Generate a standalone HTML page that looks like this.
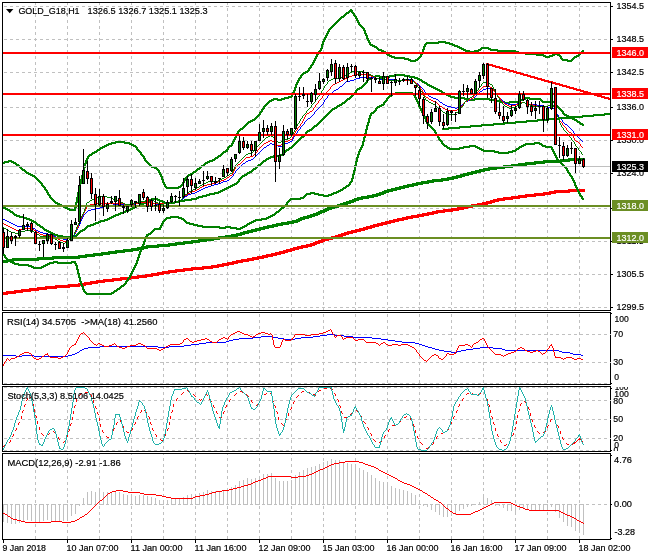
<!DOCTYPE html>
<html lang="en"><head><meta charset="utf-8"><title>GOLD_G18,H1</title>
<style>html,body{margin:0;padding:0;background:#fff;overflow:hidden}svg{display:block}text{font-family:"Liberation Sans",Arial,sans-serif}</style></head>
<body>
<svg width="650" height="560" viewBox="0 0 650 560" font-family='"Liberation Sans", Arial, sans-serif' style="display:block">
<rect width="650" height="560" fill="#fff"/>
<g shape-rendering="crispEdges">
<line x1="35.5" y1="3" x2="35.5" y2="310" stroke="#c0c0c0" stroke-width="1" stroke-dasharray="3 3" stroke-dashoffset="1"/>
<line x1="67.5" y1="3" x2="67.5" y2="310" stroke="#c0c0c0" stroke-width="1" stroke-dasharray="3 3" stroke-dashoffset="1"/>
<line x1="99.5" y1="3" x2="99.5" y2="310" stroke="#c0c0c0" stroke-width="1" stroke-dasharray="3 3" stroke-dashoffset="1"/>
<line x1="131.5" y1="3" x2="131.5" y2="310" stroke="#c0c0c0" stroke-width="1" stroke-dasharray="3 3" stroke-dashoffset="1"/>
<line x1="163.5" y1="3" x2="163.5" y2="310" stroke="#c0c0c0" stroke-width="1" stroke-dasharray="3 3" stroke-dashoffset="1"/>
<line x1="195.5" y1="3" x2="195.5" y2="310" stroke="#c0c0c0" stroke-width="1" stroke-dasharray="3 3" stroke-dashoffset="1"/>
<line x1="227.5" y1="3" x2="227.5" y2="310" stroke="#c0c0c0" stroke-width="1" stroke-dasharray="3 3" stroke-dashoffset="1"/>
<line x1="259.5" y1="3" x2="259.5" y2="310" stroke="#c0c0c0" stroke-width="1" stroke-dasharray="3 3" stroke-dashoffset="1"/>
<line x1="291.5" y1="3" x2="291.5" y2="310" stroke="#c0c0c0" stroke-width="1" stroke-dasharray="3 3" stroke-dashoffset="1"/>
<line x1="323.5" y1="3" x2="323.5" y2="310" stroke="#c0c0c0" stroke-width="1" stroke-dasharray="3 3" stroke-dashoffset="1"/>
<line x1="355.5" y1="3" x2="355.5" y2="310" stroke="#c0c0c0" stroke-width="1" stroke-dasharray="3 3" stroke-dashoffset="1"/>
<line x1="387.5" y1="3" x2="387.5" y2="310" stroke="#c0c0c0" stroke-width="1" stroke-dasharray="3 3" stroke-dashoffset="1"/>
<line x1="419.5" y1="3" x2="419.5" y2="310" stroke="#c0c0c0" stroke-width="1" stroke-dasharray="3 3" stroke-dashoffset="1"/>
<line x1="451.5" y1="3" x2="451.5" y2="310" stroke="#c0c0c0" stroke-width="1" stroke-dasharray="3 3" stroke-dashoffset="1"/>
<line x1="483.5" y1="3" x2="483.5" y2="310" stroke="#c0c0c0" stroke-width="1" stroke-dasharray="3 3" stroke-dashoffset="1"/>
<line x1="515.5" y1="3" x2="515.5" y2="310" stroke="#c0c0c0" stroke-width="1" stroke-dasharray="3 3" stroke-dashoffset="1"/>
<line x1="547.5" y1="3" x2="547.5" y2="310" stroke="#c0c0c0" stroke-width="1" stroke-dasharray="3 3" stroke-dashoffset="1"/>
<line x1="579.5" y1="3" x2="579.5" y2="310" stroke="#c0c0c0" stroke-width="1" stroke-dasharray="3 3" stroke-dashoffset="1"/>
<line x1="35.5" y1="313" x2="35.5" y2="384" stroke="#c0c0c0" stroke-width="1" stroke-dasharray="3 3" stroke-dashoffset="5"/>
<line x1="67.5" y1="313" x2="67.5" y2="384" stroke="#c0c0c0" stroke-width="1" stroke-dasharray="3 3" stroke-dashoffset="5"/>
<line x1="99.5" y1="313" x2="99.5" y2="384" stroke="#c0c0c0" stroke-width="1" stroke-dasharray="3 3" stroke-dashoffset="5"/>
<line x1="131.5" y1="313" x2="131.5" y2="384" stroke="#c0c0c0" stroke-width="1" stroke-dasharray="3 3" stroke-dashoffset="5"/>
<line x1="163.5" y1="313" x2="163.5" y2="384" stroke="#c0c0c0" stroke-width="1" stroke-dasharray="3 3" stroke-dashoffset="5"/>
<line x1="195.5" y1="313" x2="195.5" y2="384" stroke="#c0c0c0" stroke-width="1" stroke-dasharray="3 3" stroke-dashoffset="5"/>
<line x1="227.5" y1="313" x2="227.5" y2="384" stroke="#c0c0c0" stroke-width="1" stroke-dasharray="3 3" stroke-dashoffset="5"/>
<line x1="259.5" y1="313" x2="259.5" y2="384" stroke="#c0c0c0" stroke-width="1" stroke-dasharray="3 3" stroke-dashoffset="5"/>
<line x1="291.5" y1="313" x2="291.5" y2="384" stroke="#c0c0c0" stroke-width="1" stroke-dasharray="3 3" stroke-dashoffset="5"/>
<line x1="323.5" y1="313" x2="323.5" y2="384" stroke="#c0c0c0" stroke-width="1" stroke-dasharray="3 3" stroke-dashoffset="5"/>
<line x1="355.5" y1="313" x2="355.5" y2="384" stroke="#c0c0c0" stroke-width="1" stroke-dasharray="3 3" stroke-dashoffset="5"/>
<line x1="387.5" y1="313" x2="387.5" y2="384" stroke="#c0c0c0" stroke-width="1" stroke-dasharray="3 3" stroke-dashoffset="5"/>
<line x1="419.5" y1="313" x2="419.5" y2="384" stroke="#c0c0c0" stroke-width="1" stroke-dasharray="3 3" stroke-dashoffset="5"/>
<line x1="451.5" y1="313" x2="451.5" y2="384" stroke="#c0c0c0" stroke-width="1" stroke-dasharray="3 3" stroke-dashoffset="5"/>
<line x1="483.5" y1="313" x2="483.5" y2="384" stroke="#c0c0c0" stroke-width="1" stroke-dasharray="3 3" stroke-dashoffset="5"/>
<line x1="515.5" y1="313" x2="515.5" y2="384" stroke="#c0c0c0" stroke-width="1" stroke-dasharray="3 3" stroke-dashoffset="5"/>
<line x1="547.5" y1="313" x2="547.5" y2="384" stroke="#c0c0c0" stroke-width="1" stroke-dasharray="3 3" stroke-dashoffset="5"/>
<line x1="579.5" y1="313" x2="579.5" y2="384" stroke="#c0c0c0" stroke-width="1" stroke-dasharray="3 3" stroke-dashoffset="5"/>
<line x1="35.5" y1="387" x2="35.5" y2="451" stroke="#c0c0c0" stroke-width="1" stroke-dasharray="3 3" stroke-dashoffset="1"/>
<line x1="67.5" y1="387" x2="67.5" y2="451" stroke="#c0c0c0" stroke-width="1" stroke-dasharray="3 3" stroke-dashoffset="1"/>
<line x1="99.5" y1="387" x2="99.5" y2="451" stroke="#c0c0c0" stroke-width="1" stroke-dasharray="3 3" stroke-dashoffset="1"/>
<line x1="131.5" y1="387" x2="131.5" y2="451" stroke="#c0c0c0" stroke-width="1" stroke-dasharray="3 3" stroke-dashoffset="1"/>
<line x1="163.5" y1="387" x2="163.5" y2="451" stroke="#c0c0c0" stroke-width="1" stroke-dasharray="3 3" stroke-dashoffset="1"/>
<line x1="195.5" y1="387" x2="195.5" y2="451" stroke="#c0c0c0" stroke-width="1" stroke-dasharray="3 3" stroke-dashoffset="1"/>
<line x1="227.5" y1="387" x2="227.5" y2="451" stroke="#c0c0c0" stroke-width="1" stroke-dasharray="3 3" stroke-dashoffset="1"/>
<line x1="259.5" y1="387" x2="259.5" y2="451" stroke="#c0c0c0" stroke-width="1" stroke-dasharray="3 3" stroke-dashoffset="1"/>
<line x1="291.5" y1="387" x2="291.5" y2="451" stroke="#c0c0c0" stroke-width="1" stroke-dasharray="3 3" stroke-dashoffset="1"/>
<line x1="323.5" y1="387" x2="323.5" y2="451" stroke="#c0c0c0" stroke-width="1" stroke-dasharray="3 3" stroke-dashoffset="1"/>
<line x1="355.5" y1="387" x2="355.5" y2="451" stroke="#c0c0c0" stroke-width="1" stroke-dasharray="3 3" stroke-dashoffset="1"/>
<line x1="387.5" y1="387" x2="387.5" y2="451" stroke="#c0c0c0" stroke-width="1" stroke-dasharray="3 3" stroke-dashoffset="1"/>
<line x1="419.5" y1="387" x2="419.5" y2="451" stroke="#c0c0c0" stroke-width="1" stroke-dasharray="3 3" stroke-dashoffset="1"/>
<line x1="451.5" y1="387" x2="451.5" y2="451" stroke="#c0c0c0" stroke-width="1" stroke-dasharray="3 3" stroke-dashoffset="1"/>
<line x1="483.5" y1="387" x2="483.5" y2="451" stroke="#c0c0c0" stroke-width="1" stroke-dasharray="3 3" stroke-dashoffset="1"/>
<line x1="515.5" y1="387" x2="515.5" y2="451" stroke="#c0c0c0" stroke-width="1" stroke-dasharray="3 3" stroke-dashoffset="1"/>
<line x1="547.5" y1="387" x2="547.5" y2="451" stroke="#c0c0c0" stroke-width="1" stroke-dasharray="3 3" stroke-dashoffset="1"/>
<line x1="579.5" y1="387" x2="579.5" y2="451" stroke="#c0c0c0" stroke-width="1" stroke-dasharray="3 3" stroke-dashoffset="1"/>
<line x1="35.5" y1="454" x2="35.5" y2="539" stroke="#c0c0c0" stroke-width="1" stroke-dasharray="3 3" stroke-dashoffset="2"/>
<line x1="67.5" y1="454" x2="67.5" y2="539" stroke="#c0c0c0" stroke-width="1" stroke-dasharray="3 3" stroke-dashoffset="2"/>
<line x1="99.5" y1="454" x2="99.5" y2="539" stroke="#c0c0c0" stroke-width="1" stroke-dasharray="3 3" stroke-dashoffset="2"/>
<line x1="131.5" y1="454" x2="131.5" y2="539" stroke="#c0c0c0" stroke-width="1" stroke-dasharray="3 3" stroke-dashoffset="2"/>
<line x1="163.5" y1="454" x2="163.5" y2="539" stroke="#c0c0c0" stroke-width="1" stroke-dasharray="3 3" stroke-dashoffset="2"/>
<line x1="195.5" y1="454" x2="195.5" y2="539" stroke="#c0c0c0" stroke-width="1" stroke-dasharray="3 3" stroke-dashoffset="2"/>
<line x1="227.5" y1="454" x2="227.5" y2="539" stroke="#c0c0c0" stroke-width="1" stroke-dasharray="3 3" stroke-dashoffset="2"/>
<line x1="259.5" y1="454" x2="259.5" y2="539" stroke="#c0c0c0" stroke-width="1" stroke-dasharray="3 3" stroke-dashoffset="2"/>
<line x1="291.5" y1="454" x2="291.5" y2="539" stroke="#c0c0c0" stroke-width="1" stroke-dasharray="3 3" stroke-dashoffset="2"/>
<line x1="323.5" y1="454" x2="323.5" y2="539" stroke="#c0c0c0" stroke-width="1" stroke-dasharray="3 3" stroke-dashoffset="2"/>
<line x1="355.5" y1="454" x2="355.5" y2="539" stroke="#c0c0c0" stroke-width="1" stroke-dasharray="3 3" stroke-dashoffset="2"/>
<line x1="387.5" y1="454" x2="387.5" y2="539" stroke="#c0c0c0" stroke-width="1" stroke-dasharray="3 3" stroke-dashoffset="2"/>
<line x1="419.5" y1="454" x2="419.5" y2="539" stroke="#c0c0c0" stroke-width="1" stroke-dasharray="3 3" stroke-dashoffset="2"/>
<line x1="451.5" y1="454" x2="451.5" y2="539" stroke="#c0c0c0" stroke-width="1" stroke-dasharray="3 3" stroke-dashoffset="2"/>
<line x1="483.5" y1="454" x2="483.5" y2="539" stroke="#c0c0c0" stroke-width="1" stroke-dasharray="3 3" stroke-dashoffset="2"/>
<line x1="515.5" y1="454" x2="515.5" y2="539" stroke="#c0c0c0" stroke-width="1" stroke-dasharray="3 3" stroke-dashoffset="2"/>
<line x1="547.5" y1="454" x2="547.5" y2="539" stroke="#c0c0c0" stroke-width="1" stroke-dasharray="3 3" stroke-dashoffset="2"/>
<line x1="579.5" y1="454" x2="579.5" y2="539" stroke="#c0c0c0" stroke-width="1" stroke-dasharray="3 3" stroke-dashoffset="2"/>
<line x1="4" y1="6.5" x2="610" y2="6.5" stroke="#c0c0c0" stroke-width="1" stroke-dasharray="3 3" stroke-dashoffset="0"/>
<line x1="4" y1="39.5" x2="610" y2="39.5" stroke="#c0c0c0" stroke-width="1" stroke-dasharray="3 3" stroke-dashoffset="0"/>
<line x1="4" y1="72.5" x2="610" y2="72.5" stroke="#c0c0c0" stroke-width="1" stroke-dasharray="3 3" stroke-dashoffset="0"/>
<line x1="4" y1="107.5" x2="610" y2="107.5" stroke="#c0c0c0" stroke-width="1" stroke-dasharray="3 3" stroke-dashoffset="0"/>
<line x1="4" y1="140.5" x2="610" y2="140.5" stroke="#c0c0c0" stroke-width="1" stroke-dasharray="3 3" stroke-dashoffset="0"/>
<line x1="4" y1="173.5" x2="610" y2="173.5" stroke="#c0c0c0" stroke-width="1" stroke-dasharray="3 3" stroke-dashoffset="0"/>
<line x1="4" y1="208.5" x2="610" y2="208.5" stroke="#c0c0c0" stroke-width="1" stroke-dasharray="3 3" stroke-dashoffset="0"/>
<line x1="4" y1="241.5" x2="610" y2="241.5" stroke="#c0c0c0" stroke-width="1" stroke-dasharray="3 3" stroke-dashoffset="0"/>
<line x1="4" y1="274.5" x2="610" y2="274.5" stroke="#c0c0c0" stroke-width="1" stroke-dasharray="3 3" stroke-dashoffset="0"/>
<line x1="4" y1="307.5" x2="610" y2="307.5" stroke="#c0c0c0" stroke-width="1" stroke-dasharray="3 3" stroke-dashoffset="0"/>
<line x1="4" y1="334.5" x2="610" y2="334.5" stroke="#c0c0c0" stroke-width="1" stroke-dasharray="3 3" stroke-dashoffset="0"/>
<line x1="4" y1="362.5" x2="610" y2="362.5" stroke="#c0c0c0" stroke-width="1" stroke-dasharray="3 3" stroke-dashoffset="0"/>
<line x1="4" y1="383.5" x2="610" y2="383.5" stroke="#c0c0c0" stroke-width="1" stroke-dasharray="3 3" stroke-dashoffset="0"/>
<line x1="4" y1="387.5" x2="610" y2="387.5" stroke="#c0c0c0" stroke-width="1" stroke-dasharray="3 3" stroke-dashoffset="0"/>
<line x1="4" y1="400.5" x2="610" y2="400.5" stroke="#c0c0c0" stroke-width="1" stroke-dasharray="3 3" stroke-dashoffset="0"/>
<line x1="4" y1="419.5" x2="610" y2="419.5" stroke="#c0c0c0" stroke-width="1" stroke-dasharray="3 3" stroke-dashoffset="0"/>
<line x1="4" y1="438.5" x2="610" y2="438.5" stroke="#c0c0c0" stroke-width="1" stroke-dasharray="3 3" stroke-dashoffset="0"/>
<line x1="4" y1="450.5" x2="610" y2="450.5" stroke="#c0c0c0" stroke-width="1" stroke-dasharray="3 3" stroke-dashoffset="0"/>
<line x1="4" y1="504.5" x2="610" y2="504.5" stroke="#c0c0c0" stroke-width="1" stroke-dasharray="3 3" stroke-dashoffset="0"/>
</g>
<clipPath id="cm"><rect x="3" y="3" width="607" height="307"/></clipPath>
<g clip-path="url(#cm)">
<g shape-rendering="crispEdges">
<path d="M568 189h17v1h-17zM554 190h31v1h-31zM549 191h36v1h-36zM543 192h27v1h-27zM534 193h22v1h-22zM525 194h26v1h-26zM518 195h27v1h-27zM511 196h25v1h-25zM503 197h24v1h-24zM497 198h23v1h-23zM493 199h20v1h-20zM490 200h15v1h-15zM486 201h13v1h-13zM482 202h13v1h-13zM477 203h15v1h-15zM471 204h17v1h-17zM466 205h18v1h-18zM462 206h17v1h-17zM457 207h16v1h-16zM451 208h17v1h-17zM443 209h21v1h-21zM436 210h23v1h-23zM432 211h21v1h-21zM427 212h18v1h-18zM422 213h16v1h-16zM417 214h17v1h-17zM411 215h18v1h-18zM406 216h18v1h-18zM402 217h17v1h-17zM397 218h16v1h-16zM393 219h15v1h-15zM389 220h15v1h-15zM385 221h14v1h-14zM381 222h14v1h-14zM377 223h14v1h-14zM373 224h14v1h-14zM370 225h13v1h-13zM366 226h13v1h-13zM363 227h12v1h-12zM359 228h13v1h-13zM355 229h13v1h-13zM351 230h14v1h-14zM347 231h14v1h-14zM344 232h13v1h-13zM341 233h12v1h-12zM338 234h11v1h-11zM335 235h11v1h-11zM331 236h12v1h-12zM327 237h13v1h-13zM323 238h14v1h-14zM321 239h12v1h-12zM318 240h11v1h-11zM315 241h10v1h-10zM313 242h10v1h-10zM310 243h10v1h-10zM306 244h11v1h-11zM301 245h14v1h-14zM297 246h15v1h-15zM293 247h15v1h-15zM290 248h13v1h-13zM286 249h13v1h-13zM283 250h12v1h-12zM279 251h13v1h-13zM275 252h13v1h-13zM271 253h14v1h-14zM266 254h15v1h-15zM262 255h15v1h-15zM257 256h16v1h-16zM252 257h16v1h-16zM247 258h17v1h-17zM241 259h18v1h-18zM236 260h18v1h-18zM232 261h17v1h-17zM227 262h16v1h-16zM222 263h16v1h-16zM217 264h17v1h-17zM211 265h18v1h-18zM202 266h22v1h-22zM191 267h28v1h-28zM183 268h30v1h-30zM175 269h29v1h-29zM168 270h25v1h-25zM162 271h23v1h-23zM157 272h20v1h-20zM151 273h19v1h-19zM145 274h19v1h-19zM137 275h22v1h-22zM129 276h24v1h-24zM120 277h27v1h-27zM112 278h27v1h-27zM103 279h28v1h-28zM96 280h26v1h-26zM90 281h24v1h-24zM84 282h21v1h-21zM78 283h20v1h-20zM68 284h24v1h-24zM55 285h31v1h-31zM45 286h35v1h-35zM37 287h33v1h-33zM29 288h28v1h-28zM21 289h26v1h-26zM14 290h25v1h-25zM6 291h25v1h-25zM3 292h20v1h-20zM3 293h13v1h-13zM3 294h5v1h-5z" fill="#ff0000"/>
<path d="M568 158h17v1h-17zM560 159h25v1h-25zM543 160h42v1h-42zM534 161h36v1h-36zM525 162h37v1h-37zM518 163h27v1h-27zM511 164h25v1h-25zM503 165h24v1h-24zM495 166h25v1h-25zM488 167h25v1h-25zM483 168h22v1h-22zM479 169h18v1h-18zM475 170h15v1h-15zM471 171h14v1h-14zM467 172h14v1h-14zM463 173h14v1h-14zM460 174h13v1h-13zM456 175h13v1h-13zM452 176h13v1h-13zM447 177h15v1h-15zM441 178h17v1h-17zM432 179h22v1h-22zM427 180h22v1h-22zM421 181h22v1h-22zM416 182h18v1h-18zM412 183h17v1h-17zM407 184h16v1h-16zM403 185h15v1h-15zM399 186h15v1h-15zM395 187h14v1h-14zM391 188h14v1h-14zM387 189h14v1h-14zM384 190h13v1h-13zM382 191h11v1h-11zM379 192h10v1h-10zM376 193h10v1h-10zM372 194h12v1h-12zM367 195h14v1h-14zM361 196h17v1h-17zM357 197h17v1h-17zM354 198h15v1h-15zM352 199h11v1h-11zM349 200h10v1h-10zM346 201h10v1h-10zM343 202h11v1h-11zM340 203h11v1h-11zM337 204h11v1h-11zM333 205h12v1h-12zM330 206h12v1h-12zM327 207h12v1h-12zM325 208h10v1h-10zM323 209h9v1h-9zM320 210h9v1h-9zM318 211h9v1h-9zM316 212h9v1h-9zM313 213h9v1h-9zM310 214h10v1h-10zM307 215h11v1h-11zM303 216h12v1h-12zM300 217h12v1h-12zM298 218h11v1h-11zM296 219h9v1h-9zM292 220h10v1h-10zM287 221h13v1h-13zM281 222h17v1h-17zM276 223h18v1h-18zM272 224h17v1h-17zM267 225h16v1h-16zM263 226h15v1h-15zM259 227h15v1h-15zM255 228h14v1h-14zM251 229h14v1h-14zM247 230h14v1h-14zM243 231h14v1h-14zM240 232h13v1h-13zM236 233h13v1h-13zM231 234h14v1h-14zM225 235h17v1h-17zM218 236h20v1h-20zM212 237h21v1h-21zM205 238h22v1h-22zM198 239h22v1h-22zM191 240h23v1h-23zM183 241h24v1h-24zM175 242h25v1h-25zM168 243h25v1h-25zM157 244h28v1h-28zM146 245h31v1h-31zM142 246h28v1h-28zM137 247h22v1h-22zM131 248h17v1h-17zM123 249h21v1h-21zM115 250h24v1h-24zM108 251h25v1h-25zM101 252h24v1h-24zM93 253h24v1h-24zM85 254h25v1h-25zM78 255h25v1h-25zM52 256h43v1h-43zM37 257h50v1h-50zM12 258h68v1h-68zM6 259h48v1h-48zM3 260h36v1h-36zM3 261h11v1h-11zM3 262h5v1h-5z" fill="#008000"/>
<path d="M350 9h2v1h-2zM349 10h4v1h-4zM348 11h5v1h-5zM346 12h4v1h-4zM351 12h3v1h-3zM345 13h4v1h-4zM352 13h3v1h-3zM344 14h3v1h-3zM353 14h2v1h-2zM343 15h3v1h-3zM353 15h3v1h-3zM341 16h4v1h-4zM354 16h3v1h-3zM340 17h4v1h-4zM355 17h2v1h-2zM339 18h3v1h-3zM355 18h3v1h-3zM338 19h3v1h-3zM356 19h2v1h-2zM337 20h3v1h-3zM356 20h3v1h-3zM336 21h3v1h-3zM357 21h2v1h-2zM335 22h3v1h-3zM357 22h3v1h-3zM334 23h3v1h-3zM358 23h2v1h-2zM333 24h3v1h-3zM358 24h3v1h-3zM332 25h3v1h-3zM359 25h3v1h-3zM331 26h3v1h-3zM360 26h3v1h-3zM330 27h3v1h-3zM361 27h3v1h-3zM329 28h3v1h-3zM362 28h3v1h-3zM328 29h3v1h-3zM363 29h2v1h-2zM328 30h2v1h-2zM363 30h3v1h-3zM327 31h3v1h-3zM364 31h2v2h-2zM327 32h2v1h-2zM326 33h3v1h-3zM364 33h3v1h-3zM326 34h2v1h-2zM365 34h2v1h-2zM325 35h3v1h-3zM365 35h3v1h-3zM325 36h2v1h-2zM366 36h2v2h-2zM324 37h3v1h-3zM324 38h2v1h-2zM366 38h3v1h-3zM323 39h3v1h-3zM367 39h2v1h-2zM323 40h2v1h-2zM367 40h3v1h-3zM322 41h3v1h-3zM368 41h2v1h-2zM438 41h8v1h-8zM322 42h2v2h-2zM368 42h3v1h-3zM426 42h24v1h-24zM369 43h2v1h-2zM425 43h14v1h-14zM445 43h8v1h-8zM321 44h3v1h-3zM369 44h4v1h-4zM424 44h3v1h-3zM449 44h6v1h-6zM321 45h2v3h-2zM370 45h5v1h-5zM424 45h2v1h-2zM452 45h6v1h-6zM372 46h5v1h-5zM423 46h3v1h-3zM454 46h6v1h-6zM374 47h4v1h-4zM423 47h2v2h-2zM457 47h5v1h-5zM481 47h8v1h-8zM320 48h3v1h-3zM376 48h3v1h-3zM459 48h5v1h-5zM480 48h11v1h-11zM320 49h2v1h-2zM377 49h5v1h-5zM422 49h3v1h-3zM461 49h5v1h-5zM478 49h4v1h-4zM488 49h10v1h-10zM319 50h3v1h-3zM378 50h6v1h-6zM422 50h2v2h-2zM463 50h7v1h-7zM474 50h7v1h-7zM490 50h26v1h-26zM582 50h2v1h-2zM318 51h3v1h-3zM381 51h5v1h-5zM465 51h14v1h-14zM497 51h22v1h-22zM581 51h3v1h-3zM317 52h3v1h-3zM383 52h4v1h-4zM421 52h3v1h-3zM469 52h6v1h-6zM515 52h11v1h-11zM580 52h3v1h-3zM317 53h2v1h-2zM385 53h3v1h-3zM421 53h2v1h-2zM518 53h19v1h-19zM554 53h4v1h-4zM579 53h3v1h-3zM316 54h3v1h-3zM386 54h4v1h-4zM420 54h3v1h-3zM525 54h19v1h-19zM552 54h8v1h-8zM578 54h3v1h-3zM316 55h2v1h-2zM387 55h5v1h-5zM420 55h2v1h-2zM536 55h10v1h-10zM549 55h6v1h-6zM557 55h4v1h-4zM576 55h4v1h-4zM315 56h3v1h-3zM389 56h6v1h-6zM419 56h3v1h-3zM543 56h10v1h-10zM559 56h3v1h-3zM574 56h5v1h-5zM315 57h2v1h-2zM391 57h14v1h-14zM418 57h3v1h-3zM545 57h5v1h-5zM560 57h2v1h-2zM573 57h4v1h-4zM314 58h3v1h-3zM394 58h15v1h-15zM417 58h3v1h-3zM560 58h3v1h-3zM572 58h3v1h-3zM314 59h2v1h-2zM404 59h7v1h-7zM415 59h4v1h-4zM561 59h7v1h-7zM571 59h3v1h-3zM313 60h3v1h-3zM408 60h10v1h-10zM562 60h11v1h-11zM313 61h2v1h-2zM410 61h6v1h-6zM567 61h5v1h-5zM312 62h3v1h-3zM312 63h2v1h-2zM311 64h3v1h-3zM310 65h3v1h-3zM310 66h2v1h-2zM309 67h3v1h-3zM308 68h3v1h-3zM308 69h2v1h-2zM307 70h3v1h-3zM305 71h4v1h-4zM303 72h5v1h-5zM302 73h4v1h-4zM301 74h3v1h-3zM300 75h3v1h-3zM300 76h2v1h-2zM299 77h3v1h-3zM298 78h3v1h-3zM298 79h2v1h-2zM297 80h3v1h-3zM297 81h2v1h-2zM296 82h3v1h-3zM296 83h2v1h-2zM295 84h3v1h-3zM295 85h2v2h-2zM294 87h3v1h-3zM294 88h2v2h-2zM293 90h3v1h-3zM293 91h2v1h-2zM292 92h3v1h-3zM292 93h2v1h-2zM291 94h3v1h-3zM291 95h2v1h-2zM288 96h5v1h-5zM284 97h8v1h-8zM273 98h5v1h-5zM281 98h8v1h-8zM271 99h14v1h-14zM269 100h5v1h-5zM277 100h5v1h-5zM268 101h4v1h-4zM267 102h3v1h-3zM266 103h3v1h-3zM265 104h3v1h-3zM264 105h3v1h-3zM263 106h3v1h-3zM263 107h2v1h-2zM262 108h3v1h-3zM261 109h3v1h-3zM261 110h2v1h-2zM260 111h3v1h-3zM259 112h3v1h-3zM259 113h2v1h-2zM258 114h3v1h-3zM257 115h3v1h-3zM256 116h3v1h-3zM255 117h3v1h-3zM254 118h3v1h-3zM252 119h4v1h-4zM250 120h5v1h-5zM248 121h5v1h-5zM247 122h4v1h-4zM246 123h3v1h-3zM245 124h3v1h-3zM244 125h3v1h-3zM243 126h3v1h-3zM242 127h3v1h-3zM240 128h4v1h-4zM239 129h4v1h-4zM238 130h3v1h-3zM237 131h3v1h-3zM237 132h2v1h-2zM236 133h3v1h-3zM236 134h2v1h-2zM235 135h3v1h-3zM235 136h2v1h-2zM234 137h3v1h-3zM234 138h2v1h-2zM233 139h3v1h-3zM233 140h2v1h-2zM115 141h10v1h-10zM232 141h3v1h-3zM111 142h19v1h-19zM232 142h2v1h-2zM108 143h8v1h-8zM124 143h8v1h-8zM231 143h3v1h-3zM106 144h6v1h-6zM129 144h5v1h-5zM231 144h2v1h-2zM104 145h5v1h-5zM131 145h5v1h-5zM229 145h4v1h-4zM102 146h5v1h-5zM133 146h4v1h-4zM228 146h4v1h-4zM100 147h5v1h-5zM135 147h3v1h-3zM227 147h3v1h-3zM99 148h4v1h-4zM136 148h2v1h-2zM227 148h2v1h-2zM97 149h4v1h-4zM136 149h3v1h-3zM226 149h3v1h-3zM96 150h4v1h-4zM137 150h3v1h-3zM225 150h3v1h-3zM94 151h4v1h-4zM138 151h3v1h-3zM223 151h5v1h-5zM92 152h5v1h-5zM139 152h3v1h-3zM222 152h4v1h-4zM91 153h4v1h-4zM140 153h2v1h-2zM221 153h3v1h-3zM89 154h4v1h-4zM140 154h3v1h-3zM220 154h3v1h-3zM88 155h4v1h-4zM141 155h3v1h-3zM218 155h4v1h-4zM87 156h3v1h-3zM142 156h3v1h-3zM217 156h4v1h-4zM87 157h2v1h-2zM143 157h2v1h-2zM215 157h4v1h-4zM86 158h3v1h-3zM143 158h3v1h-3zM214 158h4v1h-4zM86 159h2v1h-2zM144 159h2v1h-2zM212 159h4v1h-4zM8 160h4v1h-4zM85 160h3v1h-3zM144 160h3v1h-3zM209 160h6v1h-6zM4 161h10v1h-10zM85 161h2v2h-2zM145 161h3v1h-3zM207 161h6v1h-6zM3 162h6v1h-6zM11 162h5v1h-5zM146 162h3v1h-3zM205 162h5v1h-5zM3 163h2v1h-2zM13 163h4v1h-4zM84 163h3v1h-3zM147 163h3v1h-3zM204 163h4v1h-4zM15 164h4v1h-4zM84 164h2v3h-2zM148 164h3v1h-3zM203 164h3v1h-3zM16 165h4v1h-4zM149 165h3v1h-3zM201 165h4v1h-4zM18 166h3v1h-3zM150 166h5v1h-5zM200 166h4v1h-4zM19 167h3v1h-3zM83 167h3v1h-3zM151 167h6v1h-6zM199 167h3v1h-3zM20 168h3v1h-3zM83 168h2v3h-2zM154 168h4v1h-4zM197 168h4v1h-4zM21 169h4v1h-4zM156 169h3v1h-3zM196 169h4v1h-4zM22 170h4v1h-4zM157 170h3v1h-3zM195 170h3v1h-3zM24 171h3v1h-3zM82 171h3v1h-3zM158 171h2v1h-2zM193 171h4v1h-4zM25 172h4v1h-4zM82 172h2v3h-2zM158 172h3v1h-3zM192 172h4v1h-4zM26 173h5v1h-5zM159 173h2v1h-2zM190 173h4v1h-4zM28 174h5v1h-5zM159 174h3v1h-3zM188 174h5v1h-5zM30 175h5v1h-5zM81 175h3v1h-3zM160 175h2v1h-2zM187 175h4v1h-4zM32 176h4v1h-4zM81 176h2v3h-2zM160 176h3v1h-3zM186 176h3v1h-3zM34 177h3v1h-3zM161 177h2v2h-2zM185 177h3v1h-3zM35 178h3v1h-3zM184 178h3v1h-3zM36 179h3v1h-3zM80 179h3v1h-3zM161 179h3v1h-3zM184 179h2v1h-2zM37 180h3v1h-3zM80 180h2v3h-2zM162 180h2v2h-2zM183 180h3v1h-3zM38 181h3v1h-3zM183 181h2v1h-2zM39 182h3v1h-3zM162 182h3v1h-3zM182 182h3v1h-3zM40 183h3v1h-3zM79 183h3v1h-3zM163 183h2v1h-2zM182 183h2v1h-2zM41 184h2v1h-2zM79 184h2v3h-2zM163 184h3v1h-3zM181 184h3v1h-3zM41 185h3v1h-3zM164 185h2v1h-2zM180 185h3v1h-3zM42 186h3v1h-3zM164 186h3v1h-3zM178 186h4v1h-4zM43 187h3v1h-3zM78 187h3v1h-3zM165 187h16v1h-16zM44 188h2v1h-2zM78 188h2v4h-2zM166 188h13v1h-13zM44 189h3v1h-3zM45 190h3v1h-3zM46 191h2v1h-2zM46 192h3v1h-3zM77 192h3v1h-3zM47 193h2v1h-2zM77 193h2v4h-2zM47 194h3v1h-3zM48 195h3v1h-3zM49 196h2v1h-2zM49 197h3v1h-3zM76 197h3v1h-3zM50 198h3v1h-3zM76 198h2v4h-2zM51 199h3v1h-3zM52 200h3v1h-3zM53 201h3v1h-3zM54 202h4v1h-4zM75 202h3v1h-3zM55 203h5v1h-5zM75 203h2v4h-2zM57 204h5v1h-5zM59 205h5v1h-5zM61 206h5v1h-5zM63 207h5v1h-5zM74 207h3v1h-3zM65 208h5v1h-5zM74 208h2v1h-2zM67 209h9v1h-9zM69 210h7v1h-7z" fill="#008000"/>
<path d="M395 92h18v1h-18zM392 93h22v1h-22zM391 94h5v1h-5zM412 94h3v1h-3zM389 95h4v1h-4zM413 95h3v1h-3zM388 96h4v1h-4zM414 96h2v1h-2zM387 97h3v1h-3zM414 97h3v1h-3zM386 98h3v1h-3zM415 98h2v1h-2zM386 99h2v1h-2zM415 99h3v1h-3zM385 100h3v1h-3zM416 100h2v1h-2zM384 101h3v1h-3zM416 101h3v1h-3zM383 102h3v1h-3zM417 102h2v1h-2zM383 103h2v1h-2zM417 103h3v1h-3zM381 104h4v1h-4zM418 104h2v2h-2zM379 105h5v1h-5zM377 106h5v1h-5zM418 106h3v1h-3zM376 107h4v1h-4zM419 107h2v1h-2zM375 108h3v1h-3zM419 108h3v1h-3zM375 109h2v1h-2zM420 109h2v1h-2zM374 110h3v1h-3zM420 110h3v1h-3zM373 111h3v1h-3zM421 111h2v1h-2zM371 112h4v1h-4zM421 112h3v1h-3zM370 113h4v1h-4zM422 113h2v1h-2zM370 114h2v1h-2zM422 114h3v1h-3zM369 115h3v1h-3zM423 115h2v1h-2zM369 116h2v2h-2zM423 116h3v1h-3zM424 117h2v1h-2zM368 118h3v1h-3zM424 118h3v1h-3zM368 119h2v3h-2zM425 119h2v2h-2zM425 121h3v1h-3zM367 122h3v1h-3zM426 122h2v1h-2zM367 123h2v2h-2zM426 123h3v1h-3zM427 124h3v1h-3zM366 125h3v1h-3zM428 125h3v1h-3zM366 126h2v3h-2zM429 126h3v1h-3zM430 127h3v1h-3zM431 128h3v1h-3zM365 129h3v1h-3zM432 129h3v1h-3zM365 130h2v3h-2zM433 130h3v1h-3zM434 131h2v1h-2zM434 132h3v1h-3zM364 133h3v1h-3zM435 133h2v1h-2zM364 134h2v3h-2zM435 134h3v1h-3zM436 135h3v1h-3zM437 136h2v1h-2zM363 137h3v1h-3zM437 137h3v1h-3zM363 138h2v3h-2zM438 138h2v1h-2zM438 139h3v1h-3zM439 140h3v1h-3zM362 141h3v1h-3zM440 141h3v1h-3zM362 142h2v3h-2zM441 142h2v1h-2zM534 142h6v1h-6zM441 143h3v1h-3zM525 143h17v1h-17zM442 144h3v1h-3zM523 144h12v1h-12zM539 144h4v1h-4zM361 145h3v1h-3zM443 145h4v1h-4zM469 145h7v1h-7zM521 145h5v1h-5zM541 145h5v1h-5zM361 146h2v1h-2zM444 146h4v1h-4zM463 146h15v1h-15zM519 146h5v1h-5zM542 146h10v1h-10zM360 147h3v1h-3zM446 147h4v1h-4zM459 147h11v1h-11zM475 147h5v1h-5zM518 147h4v1h-4zM545 147h8v1h-8zM360 148h2v1h-2zM447 148h17v1h-17zM477 148h5v1h-5zM516 148h4v1h-4zM551 148h2v1h-2zM359 149h3v1h-3zM449 149h11v1h-11zM479 149h5v1h-5zM515 149h4v1h-4zM551 149h3v1h-3zM359 150h2v1h-2zM481 150h14v1h-14zM512 150h5v1h-5zM552 150h2v1h-2zM358 151h3v1h-3zM483 151h16v1h-16zM508 151h8v1h-8zM552 151h3v1h-3zM358 152h2v2h-2zM494 152h19v1h-19zM553 152h2v1h-2zM498 153h11v1h-11zM553 153h3v1h-3zM357 154h3v1h-3zM554 154h2v1h-2zM357 155h2v2h-2zM554 155h3v1h-3zM555 156h2v1h-2zM356 157h3v1h-3zM555 157h3v1h-3zM356 158h2v3h-2zM556 158h2v1h-2zM556 159h3v1h-3zM557 160h3v1h-3zM355 161h3v1h-3zM558 161h3v1h-3zM355 162h2v3h-2zM559 162h3v1h-3zM560 163h3v1h-3zM561 164h3v1h-3zM354 165h3v1h-3zM562 165h3v1h-3zM354 166h2v4h-2zM563 166h3v1h-3zM564 167h3v1h-3zM565 168h3v1h-3zM566 169h2v1h-2zM353 170h3v1h-3zM566 170h3v1h-3zM353 171h2v3h-2zM567 171h2v1h-2zM567 172h3v1h-3zM568 173h3v1h-3zM352 174h3v1h-3zM569 174h2v1h-2zM352 175h2v3h-2zM569 175h3v1h-3zM570 176h3v1h-3zM571 177h2v1h-2zM351 178h3v1h-3zM571 178h3v1h-3zM351 179h2v2h-2zM572 179h2v1h-2zM572 180h3v1h-3zM350 181h3v1h-3zM573 181h2v1h-2zM349 182h3v1h-3zM573 182h3v1h-3zM349 183h2v1h-2zM574 183h2v2h-2zM348 184h3v1h-3zM346 185h4v1h-4zM574 185h3v1h-3zM345 186h4v1h-4zM575 186h2v1h-2zM343 187h4v1h-4zM575 187h3v1h-3zM342 188h4v1h-4zM576 188h2v1h-2zM340 189h4v1h-4zM576 189h3v1h-3zM338 190h5v1h-5zM577 190h2v1h-2zM336 191h5v1h-5zM577 191h3v1h-3zM310 192h5v1h-5zM333 192h6v1h-6zM578 192h2v1h-2zM306 193h13v1h-13zM331 193h6v1h-6zM578 193h3v1h-3zM305 194h6v1h-6zM314 194h10v1h-10zM328 194h6v1h-6zM579 194h2v1h-2zM304 195h3v1h-3zM318 195h14v1h-14zM579 195h3v1h-3zM303 196h3v1h-3zM323 196h6v1h-6zM580 196h3v1h-3zM300 197h5v1h-5zM581 197h2v1h-2zM290 198h14v1h-14zM581 198h3v1h-3zM289 199h12v1h-12zM582 199h2v1h-2zM288 200h3v1h-3zM287 201h3v1h-3zM286 202h3v1h-3zM286 203h2v1h-2zM285 204h3v1h-3zM284 205h3v1h-3zM283 206h3v1h-3zM281 207h4v1h-4zM280 208h4v1h-4zM279 209h3v1h-3zM278 210h3v1h-3zM276 211h4v1h-4zM275 212h4v1h-4zM274 213h3v1h-3zM272 214h4v1h-4zM270 215h5v1h-5zM170 216h9v1h-9zM268 216h5v1h-5zM166 217h16v1h-16zM266 217h5v1h-5zM165 218h6v1h-6zM178 218h6v1h-6zM261 218h8v1h-8zM164 219h3v1h-3zM181 219h4v1h-4zM255 219h12v1h-12zM163 220h3v1h-3zM183 220h3v1h-3zM253 220h9v1h-9zM162 221h3v1h-3zM184 221h3v1h-3zM251 221h5v1h-5zM162 222h2v1h-2zM185 222h5v1h-5zM249 222h5v1h-5zM161 223h3v1h-3zM186 223h8v1h-8zM247 223h5v1h-5zM161 224h2v1h-2zM189 224h9v1h-9zM246 224h4v1h-4zM160 225h3v1h-3zM193 225h10v1h-10zM244 225h4v1h-4zM160 226h2v1h-2zM197 226h23v1h-23zM225 226h6v1h-6zM242 226h5v1h-5zM159 227h3v1h-3zM202 227h35v1h-35zM240 227h5v1h-5zM154 228h7v1h-7zM219 228h7v1h-7zM230 228h13v1h-13zM153 229h8v1h-8zM236 229h5v1h-5zM152 230h3v1h-3zM151 231h3v1h-3zM150 232h3v1h-3zM148 233h4v1h-4zM146 234h5v1h-5zM146 235h3v1h-3zM145 236h3v1h-3zM145 237h2v1h-2zM144 238h3v1h-3zM144 239h2v2h-2zM143 241h3v1h-3zM143 242h2v2h-2zM142 244h3v1h-3zM142 245h2v1h-2zM141 246h3v1h-3zM141 247h2v2h-2zM140 249h3v1h-3zM140 250h2v1h-2zM139 251h3v1h-3zM139 252h2v2h-2zM3 253h1v1h-1zM3 254h2v1h-2zM138 254h3v1h-3zM3 255h3v1h-3zM138 255h2v2h-2zM4 256h2v1h-2zM4 257h3v1h-3zM137 257h3v1h-3zM5 258h3v1h-3zM137 258h2v2h-2zM6 259h4v1h-4zM7 260h4v1h-4zM136 260h3v1h-3zM9 261h4v1h-4zM53 261h5v1h-5zM71 261h5v1h-5zM136 261h2v2h-2zM10 262h5v1h-5zM49 262h27v1h-27zM12 263h7v1h-7zM47 263h7v1h-7zM57 263h15v1h-15zM74 263h3v1h-3zM135 263h3v1h-3zM14 264h15v1h-15zM45 264h5v1h-5zM75 264h2v1h-2zM135 264h2v1h-2zM18 265h14v1h-14zM43 265h5v1h-5zM75 265h3v1h-3zM134 265h3v1h-3zM28 266h6v1h-6zM41 266h5v1h-5zM76 266h2v3h-2zM134 266h2v1h-2zM31 267h13v1h-13zM133 267h3v1h-3zM33 268h9v1h-9zM133 268h2v1h-2zM76 269h3v1h-3zM132 269h3v1h-3zM77 270h2v3h-2zM132 270h2v1h-2zM131 271h3v1h-3zM131 272h2v1h-2zM77 273h3v1h-3zM130 273h3v1h-3zM78 274h2v3h-2zM130 274h2v1h-2zM129 275h3v1h-3zM129 276h2v1h-2zM78 277h3v1h-3zM128 277h3v1h-3zM79 278h2v3h-2zM127 278h3v1h-3zM127 279h2v1h-2zM126 280h3v1h-3zM79 281h3v1h-3zM125 281h3v1h-3zM80 282h2v2h-2zM125 282h2v1h-2zM124 283h3v1h-3zM80 284h3v1h-3zM123 284h3v1h-3zM81 285h2v1h-2zM121 285h4v1h-4zM81 286h3v1h-3zM120 286h4v1h-4zM82 287h2v2h-2zM119 287h3v1h-3zM117 288h4v1h-4zM82 289h3v1h-3zM116 289h4v1h-4zM83 290h2v1h-2zM114 290h4v1h-4zM83 291h3v1h-3zM113 291h4v1h-4zM84 292h3v1h-3zM111 292h4v1h-4zM85 293h29v1h-29zM86 294h26v1h-26z" fill="#008000"/>
<path d="M394 74h11v1h-11zM375 75h5v1h-5zM389 75h21v1h-21zM372 76h23v1h-23zM404 76h11v1h-11zM370 77h6v1h-6zM379 77h11v1h-11zM409 77h9v1h-9zM368 78h5v1h-5zM414 78h6v1h-6zM367 79h4v1h-4zM417 79h5v1h-5zM366 80h3v1h-3zM419 80h4v1h-4zM366 81h2v1h-2zM421 81h4v1h-4zM365 82h3v1h-3zM422 82h5v1h-5zM364 83h3v1h-3zM424 83h4v1h-4zM363 84h3v1h-3zM426 84h4v1h-4zM362 85h3v1h-3zM427 85h5v1h-5zM361 86h3v1h-3zM429 86h5v1h-5zM359 87h4v1h-4zM431 87h5v1h-5zM357 88h5v1h-5zM433 88h5v1h-5zM356 89h4v1h-4zM435 89h5v1h-5zM355 90h3v1h-3zM437 90h5v1h-5zM355 91h2v1h-2zM439 91h4v1h-4zM354 92h3v1h-3zM441 92h4v1h-4zM353 93h3v1h-3zM442 93h5v1h-5zM352 94h3v1h-3zM444 94h5v1h-5zM351 95h3v1h-3zM446 95h5v1h-5zM350 96h3v1h-3zM448 96h7v1h-7zM349 97h3v1h-3zM450 97h15v1h-15zM525 97h5v1h-5zM347 98h4v1h-4zM454 98h16v1h-16zM474 98h16v1h-16zM523 98h18v1h-18zM346 99h4v1h-4zM464 99h31v1h-31zM520 99h6v1h-6zM529 99h13v1h-13zM345 100h3v1h-3zM469 100h6v1h-6zM489 100h11v1h-11zM518 100h6v1h-6zM540 100h3v1h-3zM344 101h3v1h-3zM494 101h11v1h-11zM509 101h12v1h-12zM541 101h14v1h-14zM342 102h4v1h-4zM499 102h20v1h-20zM542 102h14v1h-14zM341 103h4v1h-4zM504 103h6v1h-6zM554 103h3v1h-3zM339 104h4v1h-4zM555 104h2v1h-2zM337 105h5v1h-5zM555 105h3v1h-3zM336 106h4v1h-4zM556 106h3v1h-3zM334 107h4v1h-4zM557 107h3v1h-3zM332 108h5v1h-5zM558 108h3v1h-3zM331 109h4v1h-4zM559 109h3v1h-3zM330 110h3v1h-3zM560 110h3v1h-3zM329 111h3v1h-3zM561 111h3v1h-3zM328 112h3v1h-3zM562 112h2v1h-2zM327 113h3v1h-3zM562 113h3v1h-3zM326 114h3v1h-3zM563 114h4v1h-4zM325 115h3v1h-3zM564 115h5v1h-5zM324 116h3v1h-3zM566 116h5v1h-5zM323 117h3v1h-3zM568 117h5v1h-5zM322 118h3v1h-3zM570 118h5v1h-5zM321 119h3v1h-3zM572 119h5v1h-5zM320 120h3v1h-3zM574 120h4v1h-4zM319 121h3v1h-3zM576 121h4v1h-4zM318 122h3v1h-3zM577 122h4v1h-4zM317 123h3v1h-3zM579 123h4v1h-4zM316 124h3v1h-3zM580 124h4v1h-4zM314 125h4v1h-4zM582 125h2v1h-2zM313 126h4v1h-4zM312 127h3v1h-3zM311 128h3v1h-3zM309 129h4v1h-4zM307 130h5v1h-5zM306 131h4v1h-4zM305 132h3v1h-3zM305 133h2v1h-2zM304 134h3v1h-3zM303 135h3v1h-3zM301 136h4v1h-4zM300 137h4v1h-4zM299 138h3v1h-3zM298 139h3v1h-3zM297 140h3v1h-3zM296 141h3v1h-3zM295 142h3v1h-3zM294 143h3v1h-3zM293 144h3v1h-3zM292 145h3v1h-3zM291 146h3v1h-3zM289 147h4v1h-4zM288 148h4v1h-4zM286 149h4v1h-4zM285 150h4v1h-4zM284 151h3v1h-3zM283 152h3v1h-3zM282 153h3v1h-3zM280 154h4v1h-4zM273 155h10v1h-10zM270 156h11v1h-11zM268 157h6v1h-6zM266 158h5v1h-5zM265 159h4v1h-4zM263 160h4v1h-4zM262 161h4v1h-4zM261 162h3v1h-3zM260 163h3v1h-3zM258 164h4v1h-4zM257 165h4v1h-4zM256 166h3v1h-3zM255 167h3v1h-3zM253 168h4v1h-4zM252 169h4v1h-4zM251 170h3v1h-3zM249 171h4v1h-4zM247 172h5v1h-5zM246 173h4v1h-4zM244 174h4v1h-4zM242 175h5v1h-5zM241 176h4v1h-4zM240 177h3v1h-3zM239 178h3v1h-3zM238 179h3v1h-3zM238 180h2v1h-2zM237 181h3v1h-3zM236 182h3v1h-3zM234 183h4v1h-4zM232 184h5v1h-5zM230 185h5v1h-5zM228 186h5v1h-5zM226 187h5v1h-5zM224 188h5v1h-5zM222 189h5v1h-5zM220 190h5v1h-5zM218 191h5v1h-5zM214 192h7v1h-7zM209 193h10v1h-10zM206 194h9v1h-9zM202 195h8v1h-8zM198 196h9v1h-9zM196 197h7v1h-7zM151 198h7v1h-7zM191 198h8v1h-8zM149 199h11v1h-11zM184 199h13v1h-13zM147 200h5v1h-5zM157 200h6v1h-6zM178 200h14v1h-14zM145 201h5v1h-5zM159 201h6v1h-6zM174 201h11v1h-11zM143 202h5v1h-5zM162 202h17v1h-17zM141 203h5v1h-5zM164 203h11v1h-11zM139 204h5v1h-5zM136 205h6v1h-6zM3 206h1v1h-1zM134 206h6v1h-6zM3 207h3v1h-3zM132 207h5v1h-5zM3 208h5v1h-5zM130 208h5v1h-5zM5 209h5v1h-5zM128 209h5v1h-5zM7 210h4v1h-4zM125 210h6v1h-6zM9 211h4v1h-4zM123 211h6v1h-6zM10 212h4v1h-4zM120 212h6v1h-6zM12 213h3v1h-3zM118 213h6v1h-6zM13 214h4v1h-4zM115 214h6v1h-6zM14 215h6v1h-6zM113 215h6v1h-6zM16 216h8v1h-8zM111 216h5v1h-5zM19 217h8v1h-8zM109 217h5v1h-5zM23 218h7v1h-7zM107 218h5v1h-5zM26 219h6v1h-6zM104 219h6v1h-6zM29 220h5v1h-5zM100 220h8v1h-8zM31 221h5v1h-5zM98 221h7v1h-7zM33 222h4v1h-4zM95 222h6v1h-6zM35 223h3v1h-3zM93 223h6v1h-6zM36 224h4v1h-4zM90 224h6v1h-6zM37 225h4v1h-4zM87 225h7v1h-7zM39 226h4v1h-4zM86 226h5v1h-5zM40 227h4v1h-4zM85 227h3v1h-3zM42 228h3v1h-3zM84 228h3v1h-3zM43 229h4v1h-4zM82 229h4v1h-4zM44 230h5v1h-5zM80 230h5v1h-5zM46 231h5v1h-5zM79 231h4v1h-4zM48 232h5v1h-5zM78 232h3v1h-3zM50 233h5v1h-5zM77 233h3v1h-3zM52 234h6v1h-6zM76 234h3v1h-3zM54 235h9v1h-9zM74 235h4v1h-4zM57 236h20v1h-20zM62 237h13v1h-13z" fill="#008000"/>
<path d="M360 77h15v1h-15zM356 78h4v1h-4zM375 78h5v1h-5zM354 79h2v1h-2zM380 79h17v1h-17zM403 79h10v1h-10zM350 80h4v1h-4zM397 80h6v1h-6zM413 80h1v1h-1zM346 81h4v1h-4zM414 81h1v1h-1zM345 82h1v1h-1zM415 82h1v1h-1zM344 83h1v1h-1zM416 83h2v1h-2zM343 84h1v1h-1zM418 84h1v1h-1zM342 85h1v1h-1zM419 85h1v1h-1zM340 86h2v1h-2zM420 86h1v1h-1zM339 87h1v1h-1zM421 87h1v1h-1zM338 88h1v1h-1zM422 88h1v1h-1zM486 88h5v1h-5zM336 89h2v1h-2zM423 89h1v1h-1zM483 89h3v1h-3zM491 89h2v1h-2zM334 90h2v1h-2zM424 90h1v2h-1zM482 90h1v1h-1zM493 90h1v1h-1zM333 91h1v1h-1zM480 91h2v1h-2zM494 91h1v1h-1zM332 92h1v1h-1zM425 92h1v1h-1zM479 92h1v1h-1zM495 92h1v1h-1zM330 93h2v1h-2zM426 93h1v1h-1zM478 93h1v1h-1zM496 93h1v2h-1zM329 94h1v1h-1zM427 94h1v1h-1zM477 94h1v1h-1zM328 95h1v1h-1zM428 95h1v1h-1zM476 95h1v1h-1zM497 95h1v1h-1zM327 96h1v2h-1zM429 96h2v1h-2zM475 96h1v1h-1zM498 96h1v1h-1zM431 97h2v1h-2zM473 97h2v1h-2zM499 97h1v1h-1zM326 98h1v1h-1zM433 98h3v1h-3zM472 98h1v1h-1zM500 98h1v1h-1zM325 99h1v1h-1zM436 99h2v1h-2zM470 99h2v1h-2zM501 99h1v1h-1zM324 100h1v2h-1zM438 100h1v1h-1zM468 100h2v1h-2zM502 100h1v1h-1zM439 101h1v1h-1zM465 101h3v1h-3zM503 101h1v1h-1zM323 102h1v2h-1zM440 102h2v1h-2zM464 102h1v1h-1zM504 102h1v1h-1zM521 102h4v1h-4zM442 103h1v1h-1zM463 103h1v1h-1zM505 103h3v1h-3zM517 103h4v1h-4zM525 103h4v1h-4zM322 104h1v1h-1zM443 104h2v1h-2zM462 104h1v1h-1zM508 104h9v1h-9zM529 104h8v1h-8zM321 105h1v1h-1zM445 105h2v1h-2zM460 105h2v1h-2zM537 105h6v1h-6zM320 106h1v1h-1zM447 106h4v1h-4zM459 106h1v1h-1zM543 106h5v1h-5zM319 107h1v1h-1zM451 107h4v1h-4zM457 107h2v1h-2zM548 107h4v1h-4zM318 108h1v1h-1zM455 108h2v1h-2zM552 108h2v1h-2zM317 109h1v1h-1zM554 109h1v2h-1zM316 110h1v1h-1zM315 111h1v1h-1zM555 111h1v2h-1zM314 112h1v2h-1zM556 113h1v1h-1zM313 114h1v1h-1zM557 114h1v1h-1zM312 115h1v1h-1zM558 115h1v2h-1zM311 116h1v1h-1zM310 117h1v1h-1zM559 117h1v1h-1zM308 118h2v1h-2zM560 118h1v1h-1zM307 119h1v1h-1zM561 119h1v1h-1zM306 120h1v1h-1zM562 120h1v2h-1zM305 121h1v1h-1zM304 122h1v2h-1zM563 122h1v1h-1zM564 123h1v1h-1zM303 124h1v1h-1zM565 124h2v1h-2zM302 125h1v1h-1zM567 125h1v1h-1zM301 126h1v1h-1zM568 126h1v1h-1zM300 127h1v2h-1zM569 127h1v1h-1zM570 128h1v1h-1zM299 129h1v1h-1zM571 129h1v1h-1zM298 130h1v1h-1zM572 130h1v1h-1zM297 131h1v2h-1zM573 131h1v2h-1zM296 133h1v1h-1zM574 133h1v1h-1zM295 134h1v2h-1zM575 134h1v1h-1zM576 135h1v1h-1zM294 136h1v1h-1zM577 136h1v1h-1zM293 137h1v2h-1zM578 137h1v1h-1zM579 138h1v1h-1zM292 139h1v2h-1zM580 139h1v1h-1zM581 140h1v1h-1zM290 141h2v1h-2zM582 141h1v1h-1zM288 142h2v1h-2zM270 143h2v1h-2zM285 143h3v1h-3zM269 144h1v1h-1zM272 144h3v1h-3zM284 144h1v1h-1zM267 145h2v1h-2zM275 145h3v1h-3zM283 145h1v1h-1zM266 146h1v1h-1zM278 146h5v1h-5zM264 147h2v1h-2zM263 148h1v1h-1zM262 149h1v1h-1zM261 150h1v1h-1zM260 151h1v1h-1zM259 152h1v1h-1zM258 153h1v1h-1zM257 154h1v1h-1zM256 155h1v1h-1zM255 156h1v1h-1zM254 157h1v1h-1zM253 158h1v1h-1zM251 159h2v1h-2zM248 160h3v1h-3zM246 161h2v1h-2zM245 162h1v1h-1zM243 163h2v1h-2zM242 164h1v1h-1zM241 165h1v1h-1zM240 166h1v1h-1zM239 167h1v1h-1zM238 168h1v1h-1zM237 169h1v1h-1zM236 170h1v1h-1zM235 171h1v2h-1zM234 173h1v1h-1zM233 174h1v2h-1zM232 176h1v1h-1zM231 177h1v1h-1zM230 178h1v1h-1zM229 179h1v1h-1zM227 180h2v1h-2zM223 181h4v1h-4zM221 182h2v1h-2zM218 183h3v1h-3zM214 184h4v1h-4zM211 185h3v1h-3zM208 186h3v1h-3zM205 187h3v1h-3zM203 188h2v1h-2zM201 189h2v1h-2zM199 190h2v1h-2zM197 191h2v1h-2zM195 192h2v1h-2zM191 193h4v1h-4zM188 194h3v1h-3zM187 195h1v1h-1zM185 196h2v1h-2zM184 197h1v1h-1zM183 198h1v1h-1zM181 199h2v1h-2zM179 200h2v1h-2zM176 201h3v1h-3zM140 202h10v1h-10zM171 202h5v1h-5zM135 203h5v1h-5zM150 203h6v1h-6zM163 203h8v1h-8zM113 204h22v1h-22zM156 204h7v1h-7zM108 205h5v1h-5zM104 206h4v1h-4zM100 207h4v1h-4zM95 208h5v1h-5zM91 209h4v1h-4zM88 210h3v1h-3zM87 211h1v1h-1zM86 212h1v1h-1zM85 213h1v1h-1zM84 214h1v1h-1zM83 215h1v2h-1zM82 217h1v2h-1zM3 219h2v1h-2zM81 219h1v2h-1zM5 220h2v1h-2zM7 221h2v1h-2zM80 221h1v3h-1zM9 222h2v1h-2zM11 223h2v1h-2zM13 224h2v1h-2zM79 224h1v2h-1zM15 225h2v1h-2zM17 226h13v1h-13zM78 226h1v2h-1zM30 227h3v1h-3zM33 228h2v1h-2zM77 228h1v2h-1zM35 229h1v1h-1zM36 230h2v1h-2zM76 230h1v2h-1zM38 231h2v1h-2zM40 232h3v1h-3zM75 232h1v2h-1zM43 233h5v1h-5zM48 234h4v1h-4zM74 234h1v2h-1zM52 235h2v1h-2zM54 236h2v1h-2zM73 236h1v1h-1zM56 237h3v1h-3zM72 237h1v1h-1zM59 238h4v1h-4zM67 238h5v1h-5zM63 239h4v1h-4z" fill="#0000ff"/>
<path d="M354 74h14v1h-14zM352 75h2v1h-2zM368 75h3v1h-3zM349 76h3v1h-3zM371 76h3v1h-3zM347 77h2v1h-2zM374 77h2v1h-2zM345 78h2v1h-2zM376 78h8v1h-8zM343 79h2v1h-2zM384 79h2v1h-2zM341 80h2v1h-2zM386 80h27v1h-27zM339 81h2v1h-2zM413 81h2v1h-2zM337 82h2v1h-2zM415 82h1v1h-1zM335 83h2v1h-2zM416 83h1v1h-1zM333 84h2v1h-2zM417 84h1v1h-1zM332 85h1v1h-1zM418 85h1v1h-1zM331 86h1v1h-1zM419 86h1v1h-1zM483 86h7v1h-7zM330 87h1v2h-1zM420 87h1v2h-1zM482 87h1v1h-1zM490 87h2v1h-2zM481 88h1v1h-1zM492 88h1v1h-1zM329 89h1v1h-1zM421 89h1v1h-1zM480 89h1v1h-1zM493 89h1v2h-1zM328 90h1v1h-1zM422 90h1v2h-1zM479 90h1v1h-1zM327 91h1v1h-1zM478 91h1v1h-1zM494 91h1v1h-1zM326 92h1v1h-1zM423 92h1v2h-1zM477 92h1v1h-1zM495 92h1v1h-1zM325 93h1v1h-1zM476 93h1v1h-1zM496 93h1v2h-1zM324 94h1v1h-1zM424 94h1v2h-1zM475 94h1v1h-1zM323 95h1v1h-1zM474 95h1v1h-1zM497 95h1v1h-1zM322 96h1v2h-1zM425 96h1v1h-1zM473 96h1v2h-1zM498 96h1v1h-1zM426 97h2v1h-2zM499 97h1v1h-1zM321 98h1v1h-1zM428 98h1v1h-1zM471 98h2v1h-2zM500 98h1v2h-1zM320 99h1v1h-1zM429 99h2v1h-2zM469 99h2v1h-2zM319 100h1v1h-1zM431 100h2v1h-2zM467 100h2v1h-2zM501 100h1v1h-1zM318 101h1v2h-1zM433 101h2v1h-2zM465 101h2v1h-2zM502 101h1v1h-1zM435 102h2v1h-2zM464 102h1v1h-1zM503 102h1v1h-1zM521 102h4v1h-4zM317 103h1v1h-1zM437 103h1v1h-1zM463 103h1v2h-1zM504 103h1v1h-1zM518 103h3v1h-3zM525 103h4v1h-4zM316 104h1v1h-1zM438 104h1v1h-1zM505 104h2v1h-2zM516 104h2v1h-2zM529 104h4v1h-4zM551 104h2v1h-2zM315 105h1v2h-1zM439 105h1v1h-1zM462 105h1v1h-1zM507 105h2v1h-2zM512 105h4v1h-4zM533 105h4v1h-4zM548 105h3v1h-3zM553 105h1v1h-1zM440 106h2v1h-2zM461 106h1v1h-1zM509 106h3v1h-3zM537 106h11v1h-11zM554 106h1v3h-1zM314 107h1v1h-1zM442 107h1v1h-1zM460 107h1v1h-1zM313 108h1v2h-1zM443 108h2v1h-2zM459 108h1v1h-1zM445 109h2v1h-2zM457 109h2v1h-2zM555 109h1v4h-1zM312 110h1v1h-1zM447 110h10v1h-10zM310 111h2v1h-2zM309 112h1v1h-1zM307 113h2v1h-2zM556 113h1v2h-1zM306 114h1v1h-1zM305 115h1v2h-1zM557 115h1v2h-1zM304 117h1v2h-1zM558 117h1v2h-1zM303 119h1v2h-1zM559 119h1v2h-1zM302 121h1v2h-1zM560 121h1v1h-1zM561 122h1v1h-1zM301 123h1v1h-1zM562 123h1v2h-1zM300 124h1v2h-1zM563 125h1v1h-1zM299 126h1v1h-1zM564 126h1v1h-1zM298 127h1v1h-1zM565 127h1v1h-1zM297 128h1v2h-1zM566 128h1v2h-1zM296 130h1v1h-1zM567 130h1v1h-1zM295 131h1v2h-1zM568 131h1v1h-1zM569 132h2v1h-2zM294 133h1v2h-1zM571 133h1v1h-1zM572 134h1v2h-1zM293 135h1v2h-1zM573 136h1v2h-1zM292 137h1v2h-1zM574 138h1v2h-1zM290 139h2v1h-2zM270 140h2v1h-2zM288 140h2v1h-2zM575 140h1v1h-1zM268 141h2v1h-2zM272 141h2v1h-2zM285 141h3v1h-3zM576 141h2v1h-2zM266 142h2v1h-2zM274 142h1v2h-1zM284 142h1v1h-1zM578 142h1v1h-1zM264 143h2v1h-2zM283 143h1v1h-1zM579 143h1v1h-1zM263 144h1v1h-1zM275 144h2v1h-2zM281 144h2v1h-2zM580 144h1v2h-1zM262 145h1v1h-1zM277 145h4v1h-4zM261 146h1v1h-1zM581 146h1v1h-1zM260 147h1v1h-1zM582 147h1v1h-1zM259 148h1v1h-1zM258 149h1v1h-1zM257 150h1v2h-1zM256 152h1v1h-1zM255 153h1v1h-1zM254 154h1v1h-1zM253 155h1v1h-1zM250 156h3v1h-3zM246 157h4v1h-4zM245 158h1v1h-1zM244 159h1v1h-1zM243 160h1v1h-1zM242 161h1v1h-1zM241 162h1v1h-1zM240 163h1v1h-1zM238 164h2v1h-2zM237 165h1v1h-1zM236 166h1v1h-1zM235 167h1v2h-1zM234 169h1v2h-1zM233 171h1v2h-1zM232 173h1v2h-1zM230 175h2v1h-2zM229 176h1v1h-1zM227 177h2v1h-2zM226 178h1v1h-1zM224 179h2v1h-2zM221 180h3v1h-3zM218 181h3v1h-3zM215 182h3v1h-3zM211 183h4v1h-4zM207 184h4v1h-4zM204 185h3v1h-3zM202 186h2v1h-2zM200 187h2v1h-2zM199 188h1v1h-1zM197 189h2v1h-2zM195 190h2v1h-2zM192 191h3v1h-3zM190 192h2v1h-2zM188 193h2v1h-2zM187 194h1v1h-1zM185 195h2v1h-2zM184 196h1v1h-1zM183 197h1v1h-1zM182 198h1v1h-1zM181 199h1v1h-1zM179 200h2v1h-2zM176 201h3v1h-3zM140 202h10v1h-10zM171 202h5v1h-5zM97 203h27v1h-27zM134 203h6v1h-6zM150 203h21v1h-21zM90 204h7v1h-7zM124 204h10v1h-10zM88 205h2v1h-2zM87 206h1v1h-1zM86 207h1v2h-1zM85 209h1v2h-1zM84 211h1v2h-1zM83 213h1v2h-1zM82 215h1v2h-1zM81 217h1v2h-1zM80 219h1v3h-1zM79 222h1v2h-1zM3 223h1v1h-1zM4 224h2v1h-2zM78 224h1v3h-1zM6 225h2v1h-2zM8 226h2v1h-2zM10 227h2v1h-2zM77 227h1v2h-1zM12 228h2v1h-2zM25 228h5v1h-5zM14 229h2v1h-2zM20 229h5v1h-5zM30 229h4v1h-4zM76 229h1v2h-1zM16 230h4v1h-4zM34 230h2v1h-2zM36 231h1v1h-1zM75 231h1v2h-1zM37 232h2v1h-2zM39 233h1v1h-1zM74 233h1v2h-1zM40 234h3v1h-3zM43 235h9v1h-9zM73 235h1v2h-1zM52 236h2v1h-2zM54 237h2v1h-2zM72 237h1v1h-1zM56 238h2v1h-2zM71 238h1v1h-1zM58 239h2v1h-2zM69 239h2v1h-2zM60 240h3v1h-3zM67 240h2v1h-2zM63 241h4v1h-4z" fill="#ff0000"/>
<path d="M352 71h12v1h-12zM350 72h2v1h-2zM364 72h2v1h-2zM348 73h2v1h-2zM366 73h2v1h-2zM346 74h2v1h-2zM368 74h3v1h-3zM344 75h2v1h-2zM371 75h2v1h-2zM343 76h1v1h-1zM373 76h2v1h-2zM341 77h2v1h-2zM375 77h1v1h-1zM333 78h8v1h-8zM376 78h8v1h-8zM331 79h2v1h-2zM384 79h2v1h-2zM403 79h6v1h-6zM329 80h2v1h-2zM386 80h17v1h-17zM409 80h4v1h-4zM328 81h1v1h-1zM413 81h1v1h-1zM327 82h1v2h-1zM414 82h1v1h-1zM483 82h3v1h-3zM415 83h1v1h-1zM482 83h1v1h-1zM486 83h4v1h-4zM326 84h1v1h-1zM416 84h1v1h-1zM481 84h1v2h-1zM490 84h2v1h-2zM325 85h1v1h-1zM417 85h1v2h-1zM492 85h1v2h-1zM324 86h1v2h-1zM480 86h1v1h-1zM418 87h1v1h-1zM479 87h1v1h-1zM493 87h1v2h-1zM323 88h1v2h-1zM419 88h1v1h-1zM478 88h1v2h-1zM420 89h1v2h-1zM494 89h1v2h-1zM322 90h1v1h-1zM477 90h1v1h-1zM321 91h1v2h-1zM421 91h1v1h-1zM476 91h1v2h-1zM495 91h1v2h-1zM422 92h1v2h-1zM320 93h1v1h-1zM475 93h1v1h-1zM496 93h1v2h-1zM319 94h1v2h-1zM423 94h1v2h-1zM474 94h1v1h-1zM473 95h1v1h-1zM497 95h1v2h-1zM318 96h1v1h-1zM424 96h1v2h-1zM472 96h1v1h-1zM317 97h1v2h-1zM470 97h2v1h-2zM498 97h1v1h-1zM425 98h1v2h-1zM469 98h1v1h-1zM499 98h1v2h-1zM316 99h1v1h-1zM468 99h1v1h-1zM315 100h1v2h-1zM426 100h2v1h-2zM466 100h2v1h-2zM500 100h1v1h-1zM428 101h1v1h-1zM465 101h1v1h-1zM501 101h1v2h-1zM314 102h1v1h-1zM429 102h2v1h-2zM464 102h1v2h-1zM522 102h3v1h-3zM313 103h1v1h-1zM431 103h2v1h-2zM502 103h1v1h-1zM520 103h2v1h-2zM525 103h3v1h-3zM552 103h1v1h-1zM312 104h1v1h-1zM433 104h2v1h-2zM463 104h1v2h-1zM503 104h1v1h-1zM518 104h2v1h-2zM528 104h2v1h-2zM550 104h3v1h-3zM311 105h1v2h-1zM435 105h1v1h-1zM504 105h1v1h-1zM517 105h1v1h-1zM530 105h3v1h-3zM548 105h2v1h-2zM553 105h1v2h-1zM436 106h1v1h-1zM462 106h1v1h-1zM505 106h2v1h-2zM515 106h2v1h-2zM533 106h9v1h-9zM545 106h3v1h-3zM310 107h1v1h-1zM437 107h1v1h-1zM461 107h1v1h-1zM507 107h2v1h-2zM512 107h3v1h-3zM542 107h3v1h-3zM554 107h1v3h-1zM309 108h1v1h-1zM438 108h1v1h-1zM460 108h1v2h-1zM509 108h3v1h-3zM308 109h1v1h-1zM439 109h1v1h-1zM307 110h1v1h-1zM440 110h2v1h-2zM459 110h1v1h-1zM555 110h1v2h-1zM306 111h1v2h-1zM442 111h1v1h-1zM458 111h1v1h-1zM443 112h2v1h-2zM456 112h2v1h-2zM556 112h1v3h-1zM305 113h1v1h-1zM445 113h2v1h-2zM455 113h1v1h-1zM304 114h1v1h-1zM447 114h8v1h-8zM303 115h1v1h-1zM557 115h1v2h-1zM302 116h1v2h-1zM558 117h1v3h-1zM301 118h1v1h-1zM300 119h1v2h-1zM559 120h1v3h-1zM299 121h1v2h-1zM298 123h1v1h-1zM560 123h1v2h-1zM297 124h1v2h-1zM561 125h1v2h-1zM296 126h1v2h-1zM562 127h1v1h-1zM295 128h1v2h-1zM563 128h1v2h-1zM294 130h1v2h-1zM564 130h1v1h-1zM565 131h1v1h-1zM293 132h1v2h-1zM566 132h1v1h-1zM567 133h1v1h-1zM292 134h1v2h-1zM568 134h1v1h-1zM270 135h1v1h-1zM569 135h1v2h-1zM268 136h2v1h-2zM271 136h2v1h-2zM291 136h1v1h-1zM266 137h2v1h-2zM273 137h1v1h-1zM290 137h1v1h-1zM570 137h1v1h-1zM265 138h1v1h-1zM274 138h1v2h-1zM288 138h2v1h-2zM571 138h1v2h-1zM264 139h1v1h-1zM285 139h3v1h-3zM263 140h1v1h-1zM275 140h1v1h-1zM283 140h2v1h-2zM572 140h1v1h-1zM262 141h1v1h-1zM276 141h2v1h-2zM281 141h2v1h-2zM573 141h1v1h-1zM261 142h1v1h-1zM278 142h3v1h-3zM574 142h1v2h-1zM260 143h1v1h-1zM259 144h1v1h-1zM575 144h1v2h-1zM258 145h1v1h-1zM257 146h1v1h-1zM576 146h1v1h-1zM256 147h1v1h-1zM577 147h1v1h-1zM255 148h1v1h-1zM578 148h1v2h-1zM254 149h1v1h-1zM253 150h1v2h-1zM579 150h1v1h-1zM580 151h1v1h-1zM251 152h2v1h-2zM581 152h1v2h-1zM248 153h3v1h-3zM246 154h2v1h-2zM582 154h1v1h-1zM245 155h1v1h-1zM244 156h1v1h-1zM243 157h1v1h-1zM242 158h1v1h-1zM241 159h1v1h-1zM240 160h1v1h-1zM239 161h1v1h-1zM238 162h1v1h-1zM237 163h1v1h-1zM236 164h1v1h-1zM235 165h1v2h-1zM234 167h1v2h-1zM233 169h1v2h-1zM232 171h1v2h-1zM230 173h2v1h-2zM229 174h1v1h-1zM227 175h2v1h-2zM226 176h1v1h-1zM224 177h2v1h-2zM222 178h2v1h-2zM220 179h2v1h-2zM218 180h2v1h-2zM208 181h10v1h-10zM206 182h2v1h-2zM204 183h2v1h-2zM202 184h2v1h-2zM200 185h2v1h-2zM199 186h1v1h-1zM197 187h2v1h-2zM195 188h2v1h-2zM193 189h2v1h-2zM191 190h2v1h-2zM189 191h2v1h-2zM188 192h1v1h-1zM187 193h1v1h-1zM185 194h2v1h-2zM184 195h1v1h-1zM98 196h9v1h-9zM183 196h1v1h-1zM96 197h2v1h-2zM107 197h4v1h-4zM182 197h1v2h-1zM94 198h2v1h-2zM111 198h2v1h-2zM92 199h2v1h-2zM113 199h3v1h-3zM181 199h1v1h-1zM90 200h2v1h-2zM116 200h2v1h-2zM145 200h9v1h-9zM179 200h2v1h-2zM89 201h1v1h-1zM118 201h3v1h-3zM140 201h5v1h-5zM154 201h2v1h-2zM176 201h3v1h-3zM87 202h2v1h-2zM121 202h2v1h-2zM135 202h5v1h-5zM156 202h2v1h-2zM171 202h5v1h-5zM86 203h1v2h-1zM123 203h2v1h-2zM132 203h3v1h-3zM158 203h2v1h-2zM164 203h7v1h-7zM125 204h7v1h-7zM160 204h4v1h-4zM85 205h1v4h-1zM84 209h1v3h-1zM83 212h1v2h-1zM82 214h1v2h-1zM81 216h1v2h-1zM80 218h1v2h-1zM79 220h1v3h-1zM78 223h1v2h-1zM77 225h1v2h-1zM3 227h1v1h-1zM76 227h1v3h-1zM4 228h2v1h-2zM6 229h1v1h-1zM7 230h2v1h-2zM25 230h5v1h-5zM75 230h1v2h-1zM9 231h2v1h-2zM21 231h4v1h-4zM30 231h4v1h-4zM11 232h4v1h-4zM19 232h2v1h-2zM34 232h2v1h-2zM74 232h1v3h-1zM15 233h4v1h-4zM36 233h1v1h-1zM37 234h2v1h-2zM39 235h1v1h-1zM73 235h1v2h-1zM40 236h12v1h-12zM52 237h2v1h-2zM72 237h1v1h-1zM54 238h1v1h-1zM71 238h1v1h-1zM55 239h2v1h-2zM69 239h2v1h-2zM57 240h1v1h-1zM68 240h1v1h-1zM58 241h2v1h-2zM67 241h1v1h-1zM60 242h3v1h-3zM65 242h2v1h-2zM63 243h2v1h-2z" fill="#008000"/>
<rect x="3" y="166" width="607" height="1" fill="#c0c0c0" />
<rect x="3" y="205" width="607" height="2" fill="#6b8e23" />
<rect x="3" y="237" width="607" height="2" fill="#6b8e23" />
<rect x="3" y="52" width="607" height="2" fill="#ff0000" />
<rect x="3" y="93" width="607" height="2" fill="#ff0000" />
<rect x="3" y="134" width="607" height="2" fill="#ff0000" />
<path d="M604 113h6v1h-6zM593 114h17v1h-17zM582 115h23v1h-23zM571 116h23v1h-23zM559 117h24v1h-24zM548 118h24v1h-24zM537 119h23v1h-23zM526 120h23v1h-23zM515 121h23v1h-23zM504 122h23v1h-23zM493 123h23v1h-23zM481 124h24v1h-24zM470 125h24v1h-24zM459 126h23v1h-23zM448 127h23v1h-23zM442 128h18v1h-18zM442 129h7v1h-7z" fill="#008000"/>
<path d="M486 63h3v1h-3zM486 64h7v1h-7zM488 65h8v1h-8zM492 66h8v1h-8zM495 67h8v1h-8zM499 68h8v1h-8zM502 69h8v1h-8zM506 70h8v1h-8zM509 71h8v1h-8zM513 72h8v1h-8zM516 73h8v1h-8zM520 74h8v1h-8zM523 75h8v1h-8zM527 76h8v1h-8zM530 77h8v1h-8zM534 78h8v1h-8zM537 79h8v1h-8zM541 80h8v1h-8zM544 81h9v1h-9zM548 82h8v1h-8zM552 83h8v1h-8zM555 84h8v1h-8zM559 85h8v1h-8zM562 86h8v1h-8zM566 87h8v1h-8zM569 88h8v1h-8zM573 89h8v1h-8zM576 90h8v1h-8zM580 91h8v1h-8zM583 92h8v1h-8zM587 93h8v1h-8zM590 94h8v1h-8zM594 95h8v1h-8zM597 96h8v1h-8zM601 97h8v1h-8zM604 98h6v1h-6zM608 99h2v1h-2z" fill="#ff0000"/>
<rect x="3" y="228" width="1" height="26" fill="#000"/>
<rect x="2" y="232" width="3" height="16" fill="#000"/>
<rect x="3" y="233" width="1" height="14" fill="#ff0000"/>
<rect x="7" y="229" width="1" height="19" fill="#000"/>
<rect x="6" y="236" width="3" height="12" fill="#000"/>
<rect x="7" y="237" width="1" height="10" fill="#008000"/>
<rect x="11" y="232" width="1" height="12" fill="#000"/>
<rect x="10" y="236" width="3" height="5" fill="#000"/>
<rect x="11" y="237" width="1" height="3" fill="#ff0000"/>
<rect x="15" y="235" width="1" height="11" fill="#000"/>
<rect x="14" y="236" width="3" height="2" fill="#000"/>
<rect x="19" y="229" width="1" height="9" fill="#000"/>
<rect x="18" y="230" width="3" height="6" fill="#000"/>
<rect x="19" y="231" width="1" height="4" fill="#008000"/>
<rect x="23" y="214" width="1" height="16" fill="#000"/>
<rect x="22" y="225" width="3" height="5" fill="#000"/>
<rect x="23" y="226" width="1" height="3" fill="#008000"/>
<rect x="27" y="222" width="1" height="9" fill="#000"/>
<rect x="26" y="224" width="3" height="2" fill="#000"/>
<rect x="31" y="222" width="1" height="11" fill="#000"/>
<rect x="30" y="223" width="3" height="8" fill="#000"/>
<rect x="31" y="224" width="1" height="6" fill="#ff0000"/>
<rect x="35" y="231" width="1" height="13" fill="#000"/>
<rect x="34" y="232" width="3" height="12" fill="#000"/>
<rect x="35" y="233" width="1" height="10" fill="#ff0000"/>
<rect x="39" y="241" width="1" height="10" fill="#000"/>
<rect x="38" y="244" width="3" height="1" fill="#000"/>
<rect x="43" y="240" width="1" height="17" fill="#000"/>
<rect x="42" y="240" width="3" height="4" fill="#000"/>
<rect x="43" y="241" width="1" height="2" fill="#008000"/>
<rect x="47" y="233" width="1" height="11" fill="#000"/>
<rect x="46" y="234" width="3" height="7" fill="#000"/>
<rect x="47" y="235" width="1" height="5" fill="#008000"/>
<rect x="51" y="234" width="1" height="11" fill="#000"/>
<rect x="50" y="234" width="3" height="10" fill="#000"/>
<rect x="51" y="235" width="1" height="8" fill="#ff0000"/>
<rect x="55" y="242" width="1" height="8" fill="#000"/>
<rect x="54" y="244" width="3" height="1" fill="#000"/>
<rect x="59" y="241" width="1" height="8" fill="#000"/>
<rect x="58" y="242" width="3" height="7" fill="#000"/>
<rect x="59" y="243" width="1" height="5" fill="#ff0000"/>
<rect x="63" y="243" width="1" height="9" fill="#000"/>
<rect x="62" y="247" width="3" height="2" fill="#000"/>
<rect x="67" y="238" width="1" height="10" fill="#000"/>
<rect x="66" y="240" width="3" height="8" fill="#000"/>
<rect x="67" y="241" width="1" height="6" fill="#008000"/>
<rect x="71" y="220" width="1" height="21" fill="#000"/>
<rect x="70" y="224" width="3" height="17" fill="#000"/>
<rect x="71" y="225" width="1" height="15" fill="#008000"/>
<rect x="75" y="218" width="1" height="7" fill="#000"/>
<rect x="74" y="222" width="3" height="3" fill="#000"/>
<rect x="75" y="223" width="1" height="1" fill="#008000"/>
<rect x="79" y="176" width="1" height="48" fill="#000"/>
<rect x="78" y="185" width="3" height="37" fill="#000"/>
<rect x="79" y="186" width="1" height="35" fill="#008000"/>
<rect x="83" y="149" width="1" height="35" fill="#000"/>
<rect x="82" y="170" width="3" height="14" fill="#000"/>
<rect x="83" y="171" width="1" height="12" fill="#008000"/>
<rect x="87" y="161" width="1" height="23" fill="#000"/>
<rect x="86" y="171" width="3" height="8" fill="#000"/>
<rect x="87" y="172" width="1" height="6" fill="#ff0000"/>
<rect x="91" y="173" width="1" height="26" fill="#000"/>
<rect x="90" y="178" width="3" height="16" fill="#000"/>
<rect x="91" y="179" width="1" height="14" fill="#ff0000"/>
<rect x="95" y="188" width="1" height="33" fill="#000"/>
<rect x="94" y="194" width="3" height="11" fill="#000"/>
<rect x="95" y="195" width="1" height="9" fill="#ff0000"/>
<rect x="99" y="189" width="1" height="17" fill="#000"/>
<rect x="98" y="196" width="3" height="9" fill="#000"/>
<rect x="99" y="197" width="1" height="7" fill="#008000"/>
<rect x="103" y="194" width="1" height="22" fill="#000"/>
<rect x="102" y="196" width="3" height="11" fill="#000"/>
<rect x="103" y="197" width="1" height="9" fill="#ff0000"/>
<rect x="107" y="202" width="1" height="10" fill="#000"/>
<rect x="106" y="204" width="3" height="5" fill="#000"/>
<rect x="107" y="205" width="1" height="3" fill="#008000"/>
<rect x="111" y="196" width="1" height="8" fill="#000"/>
<rect x="110" y="201" width="3" height="2" fill="#000"/>
<rect x="115" y="196" width="1" height="15" fill="#000"/>
<rect x="114" y="196" width="3" height="6" fill="#000"/>
<rect x="115" y="197" width="1" height="4" fill="#008000"/>
<rect x="119" y="190" width="1" height="16" fill="#000"/>
<rect x="118" y="198" width="3" height="8" fill="#000"/>
<rect x="119" y="199" width="1" height="6" fill="#ff0000"/>
<rect x="123" y="205" width="1" height="9" fill="#000"/>
<rect x="122" y="206" width="3" height="2" fill="#000"/>
<rect x="127" y="206" width="1" height="7" fill="#000"/>
<rect x="126" y="206" width="3" height="5" fill="#000"/>
<rect x="127" y="207" width="1" height="3" fill="#008000"/>
<rect x="131" y="199" width="1" height="8" fill="#000"/>
<rect x="130" y="200" width="3" height="5" fill="#000"/>
<rect x="131" y="201" width="1" height="3" fill="#008000"/>
<rect x="135" y="201" width="1" height="7" fill="#000"/>
<rect x="134" y="201" width="3" height="2" fill="#000"/>
<rect x="139" y="194" width="1" height="12" fill="#000"/>
<rect x="138" y="194" width="3" height="10" fill="#000"/>
<rect x="139" y="195" width="1" height="8" fill="#008000"/>
<rect x="143" y="189" width="1" height="11" fill="#000"/>
<rect x="142" y="192" width="3" height="6" fill="#000"/>
<rect x="143" y="193" width="1" height="4" fill="#ff0000"/>
<rect x="147" y="196" width="1" height="16" fill="#000"/>
<rect x="146" y="197" width="3" height="10" fill="#000"/>
<rect x="147" y="198" width="1" height="8" fill="#ff0000"/>
<rect x="151" y="199" width="1" height="12" fill="#000"/>
<rect x="150" y="200" width="3" height="7" fill="#000"/>
<rect x="151" y="201" width="1" height="5" fill="#ff0000"/>
<rect x="155" y="196" width="1" height="15" fill="#000"/>
<rect x="154" y="205" width="3" height="1" fill="#000"/>
<rect x="159" y="202" width="1" height="11" fill="#000"/>
<rect x="158" y="204" width="3" height="7" fill="#000"/>
<rect x="159" y="205" width="1" height="5" fill="#ff0000"/>
<rect x="163" y="205" width="1" height="8" fill="#000"/>
<rect x="162" y="208" width="3" height="3" fill="#000"/>
<rect x="163" y="209" width="1" height="1" fill="#008000"/>
<rect x="167" y="200" width="1" height="9" fill="#000"/>
<rect x="166" y="202" width="3" height="6" fill="#000"/>
<rect x="167" y="203" width="1" height="4" fill="#008000"/>
<rect x="171" y="193" width="1" height="10" fill="#000"/>
<rect x="170" y="196" width="3" height="6" fill="#000"/>
<rect x="171" y="197" width="1" height="4" fill="#008000"/>
<rect x="175" y="195" width="1" height="8" fill="#000"/>
<rect x="174" y="196" width="3" height="1" fill="#000"/>
<rect x="179" y="191" width="1" height="15" fill="#000"/>
<rect x="178" y="197" width="3" height="1" fill="#000"/>
<rect x="183" y="178" width="1" height="20" fill="#000"/>
<rect x="182" y="188" width="3" height="9" fill="#000"/>
<rect x="183" y="189" width="1" height="7" fill="#008000"/>
<rect x="187" y="176" width="1" height="18" fill="#000"/>
<rect x="186" y="179" width="3" height="8" fill="#000"/>
<rect x="187" y="180" width="1" height="6" fill="#008000"/>
<rect x="191" y="174" width="1" height="20" fill="#000"/>
<rect x="190" y="179" width="3" height="7" fill="#000"/>
<rect x="191" y="180" width="1" height="5" fill="#ff0000"/>
<rect x="195" y="178" width="1" height="12" fill="#000"/>
<rect x="194" y="183" width="3" height="5" fill="#000"/>
<rect x="195" y="184" width="1" height="3" fill="#008000"/>
<rect x="199" y="179" width="1" height="5" fill="#000"/>
<rect x="198" y="181" width="3" height="3" fill="#000"/>
<rect x="199" y="182" width="1" height="1" fill="#008000"/>
<rect x="203" y="171" width="1" height="15" fill="#000"/>
<rect x="202" y="180" width="3" height="1" fill="#000"/>
<rect x="207" y="171" width="1" height="9" fill="#000"/>
<rect x="206" y="176" width="3" height="3" fill="#000"/>
<rect x="207" y="177" width="1" height="1" fill="#008000"/>
<rect x="211" y="176" width="1" height="10" fill="#000"/>
<rect x="210" y="176" width="3" height="6" fill="#000"/>
<rect x="211" y="177" width="1" height="4" fill="#ff0000"/>
<rect x="215" y="177" width="1" height="7" fill="#000"/>
<rect x="214" y="181" width="3" height="2" fill="#000"/>
<rect x="219" y="178" width="1" height="6" fill="#000"/>
<rect x="218" y="178" width="3" height="1" fill="#000"/>
<rect x="223" y="165" width="1" height="12" fill="#000"/>
<rect x="222" y="169" width="3" height="8" fill="#000"/>
<rect x="223" y="170" width="1" height="6" fill="#008000"/>
<rect x="227" y="168" width="1" height="8" fill="#000"/>
<rect x="226" y="168" width="3" height="5" fill="#000"/>
<rect x="227" y="169" width="1" height="3" fill="#ff0000"/>
<rect x="231" y="157" width="1" height="15" fill="#000"/>
<rect x="230" y="159" width="3" height="12" fill="#000"/>
<rect x="231" y="160" width="1" height="10" fill="#008000"/>
<rect x="235" y="154" width="1" height="8" fill="#000"/>
<rect x="234" y="154" width="3" height="5" fill="#000"/>
<rect x="235" y="155" width="1" height="3" fill="#008000"/>
<rect x="239" y="136" width="1" height="18" fill="#000"/>
<rect x="238" y="141" width="3" height="12" fill="#000"/>
<rect x="239" y="142" width="1" height="10" fill="#008000"/>
<rect x="243" y="137" width="1" height="13" fill="#000"/>
<rect x="242" y="141" width="3" height="7" fill="#000"/>
<rect x="243" y="142" width="1" height="5" fill="#ff0000"/>
<rect x="247" y="141" width="1" height="8" fill="#000"/>
<rect x="246" y="144" width="3" height="4" fill="#000"/>
<rect x="247" y="145" width="1" height="2" fill="#008000"/>
<rect x="251" y="141" width="1" height="15" fill="#000"/>
<rect x="250" y="144" width="3" height="7" fill="#000"/>
<rect x="251" y="145" width="1" height="5" fill="#ff0000"/>
<rect x="255" y="141" width="1" height="16" fill="#000"/>
<rect x="254" y="141" width="3" height="10" fill="#000"/>
<rect x="255" y="142" width="1" height="8" fill="#008000"/>
<rect x="259" y="124" width="1" height="17" fill="#000"/>
<rect x="258" y="132" width="3" height="9" fill="#000"/>
<rect x="259" y="133" width="1" height="7" fill="#008000"/>
<rect x="263" y="120" width="1" height="18" fill="#000"/>
<rect x="262" y="128" width="3" height="4" fill="#000"/>
<rect x="263" y="129" width="1" height="2" fill="#008000"/>
<rect x="267" y="125" width="1" height="10" fill="#000"/>
<rect x="266" y="128" width="3" height="4" fill="#000"/>
<rect x="267" y="129" width="1" height="2" fill="#ff0000"/>
<rect x="271" y="123" width="1" height="12" fill="#000"/>
<rect x="270" y="126" width="3" height="6" fill="#000"/>
<rect x="271" y="127" width="1" height="4" fill="#008000"/>
<rect x="275" y="121" width="1" height="61" fill="#000"/>
<rect x="274" y="126" width="3" height="36" fill="#000"/>
<rect x="275" y="127" width="1" height="34" fill="#ff0000"/>
<rect x="279" y="148" width="1" height="21" fill="#000"/>
<rect x="278" y="155" width="3" height="7" fill="#000"/>
<rect x="279" y="156" width="1" height="5" fill="#008000"/>
<rect x="283" y="125" width="1" height="31" fill="#000"/>
<rect x="282" y="131" width="3" height="24" fill="#000"/>
<rect x="283" y="132" width="1" height="22" fill="#008000"/>
<rect x="287" y="129" width="1" height="10" fill="#000"/>
<rect x="286" y="131" width="3" height="4" fill="#000"/>
<rect x="287" y="132" width="1" height="2" fill="#ff0000"/>
<rect x="291" y="128" width="1" height="8" fill="#000"/>
<rect x="290" y="128" width="3" height="7" fill="#000"/>
<rect x="291" y="129" width="1" height="5" fill="#008000"/>
<rect x="295" y="94" width="1" height="36" fill="#000"/>
<rect x="294" y="96" width="3" height="33" fill="#000"/>
<rect x="295" y="97" width="1" height="31" fill="#008000"/>
<rect x="299" y="87" width="1" height="14" fill="#000"/>
<rect x="298" y="96" width="3" height="1" fill="#000"/>
<rect x="303" y="87" width="1" height="12" fill="#000"/>
<rect x="302" y="94" width="3" height="2" fill="#000"/>
<rect x="307" y="94" width="1" height="13" fill="#000"/>
<rect x="306" y="101" width="3" height="1" fill="#000"/>
<rect x="311" y="92" width="1" height="12" fill="#000"/>
<rect x="310" y="93" width="3" height="9" fill="#000"/>
<rect x="311" y="94" width="1" height="7" fill="#008000"/>
<rect x="315" y="84" width="1" height="17" fill="#000"/>
<rect x="314" y="89" width="3" height="6" fill="#000"/>
<rect x="315" y="90" width="1" height="4" fill="#008000"/>
<rect x="319" y="73" width="1" height="17" fill="#000"/>
<rect x="318" y="81" width="3" height="8" fill="#000"/>
<rect x="319" y="82" width="1" height="6" fill="#008000"/>
<rect x="323" y="78" width="1" height="6" fill="#000"/>
<rect x="322" y="79" width="3" height="3" fill="#000"/>
<rect x="323" y="80" width="1" height="1" fill="#008000"/>
<rect x="327" y="69" width="1" height="12" fill="#000"/>
<rect x="326" y="70" width="3" height="8" fill="#000"/>
<rect x="327" y="71" width="1" height="6" fill="#008000"/>
<rect x="331" y="59" width="1" height="17" fill="#000"/>
<rect x="330" y="64" width="3" height="8" fill="#000"/>
<rect x="331" y="65" width="1" height="6" fill="#008000"/>
<rect x="335" y="60" width="1" height="24" fill="#000"/>
<rect x="334" y="63" width="3" height="16" fill="#000"/>
<rect x="335" y="64" width="1" height="14" fill="#ff0000"/>
<rect x="339" y="64" width="1" height="18" fill="#000"/>
<rect x="338" y="67" width="3" height="12" fill="#000"/>
<rect x="339" y="68" width="1" height="10" fill="#008000"/>
<rect x="343" y="65" width="1" height="15" fill="#000"/>
<rect x="342" y="67" width="3" height="12" fill="#000"/>
<rect x="343" y="68" width="1" height="10" fill="#ff0000"/>
<rect x="347" y="63" width="1" height="19" fill="#000"/>
<rect x="346" y="67" width="3" height="11" fill="#000"/>
<rect x="347" y="68" width="1" height="9" fill="#008000"/>
<rect x="351" y="64" width="1" height="8" fill="#000"/>
<rect x="350" y="66" width="3" height="1" fill="#000"/>
<rect x="355" y="65" width="1" height="13" fill="#000"/>
<rect x="354" y="66" width="3" height="10" fill="#000"/>
<rect x="355" y="67" width="1" height="8" fill="#ff0000"/>
<rect x="359" y="71" width="1" height="7" fill="#000"/>
<rect x="358" y="72" width="3" height="4" fill="#000"/>
<rect x="359" y="73" width="1" height="2" fill="#008000"/>
<rect x="363" y="70" width="1" height="12" fill="#000"/>
<rect x="362" y="72" width="3" height="1" fill="#000"/>
<rect x="367" y="72" width="1" height="10" fill="#000"/>
<rect x="366" y="72" width="3" height="7" fill="#000"/>
<rect x="367" y="73" width="1" height="5" fill="#ff0000"/>
<rect x="371" y="77" width="1" height="15" fill="#000"/>
<rect x="370" y="78" width="3" height="1" fill="#000"/>
<rect x="375" y="77" width="1" height="6" fill="#000"/>
<rect x="374" y="78" width="3" height="2" fill="#000"/>
<rect x="379" y="77" width="1" height="7" fill="#000"/>
<rect x="378" y="81" width="3" height="3" fill="#000"/>
<rect x="379" y="82" width="1" height="1" fill="#ff0000"/>
<rect x="383" y="72" width="1" height="18" fill="#000"/>
<rect x="382" y="76" width="3" height="8" fill="#000"/>
<rect x="383" y="77" width="1" height="6" fill="#008000"/>
<rect x="387" y="76" width="1" height="8" fill="#000"/>
<rect x="386" y="76" width="3" height="8" fill="#000"/>
<rect x="387" y="77" width="1" height="6" fill="#ff0000"/>
<rect x="391" y="81" width="1" height="15" fill="#000"/>
<rect x="390" y="82" width="3" height="1" fill="#000"/>
<rect x="395" y="74" width="1" height="12" fill="#000"/>
<rect x="394" y="79" width="3" height="4" fill="#000"/>
<rect x="395" y="80" width="1" height="2" fill="#008000"/>
<rect x="399" y="78" width="1" height="7" fill="#000"/>
<rect x="398" y="81" width="3" height="1" fill="#000"/>
<rect x="403" y="78" width="1" height="4" fill="#000"/>
<rect x="402" y="79" width="3" height="2" fill="#000"/>
<rect x="407" y="76" width="1" height="9" fill="#000"/>
<rect x="406" y="79" width="3" height="1" fill="#000"/>
<rect x="411" y="78" width="1" height="6" fill="#000"/>
<rect x="410" y="79" width="3" height="5" fill="#000"/>
<rect x="411" y="80" width="1" height="3" fill="#ff0000"/>
<rect x="415" y="85" width="1" height="11" fill="#000"/>
<rect x="414" y="85" width="3" height="3" fill="#000"/>
<rect x="415" y="86" width="1" height="1" fill="#ff0000"/>
<rect x="419" y="86" width="1" height="20" fill="#000"/>
<rect x="418" y="90" width="3" height="9" fill="#000"/>
<rect x="419" y="91" width="1" height="7" fill="#ff0000"/>
<rect x="423" y="97" width="1" height="27" fill="#000"/>
<rect x="422" y="99" width="3" height="17" fill="#000"/>
<rect x="423" y="100" width="1" height="15" fill="#ff0000"/>
<rect x="427" y="114" width="1" height="15" fill="#000"/>
<rect x="426" y="116" width="3" height="7" fill="#000"/>
<rect x="427" y="117" width="1" height="5" fill="#ff0000"/>
<rect x="431" y="109" width="1" height="15" fill="#000"/>
<rect x="430" y="112" width="3" height="10" fill="#000"/>
<rect x="431" y="113" width="1" height="8" fill="#008000"/>
<rect x="435" y="101" width="1" height="11" fill="#000"/>
<rect x="434" y="108" width="3" height="4" fill="#000"/>
<rect x="435" y="109" width="1" height="2" fill="#008000"/>
<rect x="439" y="106" width="1" height="20" fill="#000"/>
<rect x="438" y="108" width="3" height="14" fill="#000"/>
<rect x="439" y="109" width="1" height="12" fill="#ff0000"/>
<rect x="443" y="114" width="1" height="15" fill="#000"/>
<rect x="442" y="122" width="3" height="4" fill="#000"/>
<rect x="443" y="123" width="1" height="2" fill="#ff0000"/>
<rect x="447" y="108" width="1" height="18" fill="#000"/>
<rect x="446" y="111" width="3" height="14" fill="#000"/>
<rect x="447" y="112" width="1" height="12" fill="#008000"/>
<rect x="451" y="110" width="1" height="11" fill="#000"/>
<rect x="450" y="111" width="3" height="2" fill="#000"/>
<rect x="455" y="112" width="1" height="10" fill="#000"/>
<rect x="454" y="114" width="3" height="1" fill="#000"/>
<rect x="459" y="90" width="1" height="24" fill="#000"/>
<rect x="458" y="91" width="3" height="23" fill="#000"/>
<rect x="459" y="92" width="1" height="21" fill="#008000"/>
<rect x="463" y="84" width="1" height="12" fill="#000"/>
<rect x="462" y="91" width="3" height="1" fill="#000"/>
<rect x="467" y="85" width="1" height="13" fill="#000"/>
<rect x="466" y="88" width="3" height="4" fill="#000"/>
<rect x="467" y="89" width="1" height="2" fill="#008000"/>
<rect x="471" y="88" width="1" height="6" fill="#000"/>
<rect x="470" y="89" width="3" height="5" fill="#000"/>
<rect x="471" y="90" width="1" height="3" fill="#ff0000"/>
<rect x="475" y="79" width="1" height="15" fill="#000"/>
<rect x="474" y="81" width="3" height="13" fill="#000"/>
<rect x="475" y="82" width="1" height="11" fill="#008000"/>
<rect x="479" y="72" width="1" height="16" fill="#000"/>
<rect x="478" y="75" width="3" height="6" fill="#000"/>
<rect x="479" y="76" width="1" height="4" fill="#008000"/>
<rect x="483" y="63" width="1" height="16" fill="#000"/>
<rect x="482" y="64" width="3" height="12" fill="#000"/>
<rect x="483" y="65" width="1" height="10" fill="#008000"/>
<rect x="487" y="63" width="1" height="35" fill="#000"/>
<rect x="486" y="64" width="3" height="23" fill="#000"/>
<rect x="487" y="65" width="1" height="21" fill="#ff0000"/>
<rect x="491" y="88" width="1" height="15" fill="#000"/>
<rect x="490" y="88" width="3" height="10" fill="#000"/>
<rect x="491" y="89" width="1" height="8" fill="#ff0000"/>
<rect x="495" y="89" width="1" height="25" fill="#000"/>
<rect x="494" y="98" width="3" height="14" fill="#000"/>
<rect x="495" y="99" width="1" height="12" fill="#ff0000"/>
<rect x="499" y="103" width="1" height="16" fill="#000"/>
<rect x="498" y="112" width="3" height="4" fill="#000"/>
<rect x="499" y="113" width="1" height="2" fill="#ff0000"/>
<rect x="503" y="106" width="1" height="17" fill="#000"/>
<rect x="502" y="116" width="3" height="5" fill="#000"/>
<rect x="503" y="117" width="1" height="3" fill="#ff0000"/>
<rect x="507" y="112" width="1" height="11" fill="#000"/>
<rect x="506" y="116" width="3" height="3" fill="#000"/>
<rect x="507" y="117" width="1" height="1" fill="#008000"/>
<rect x="511" y="105" width="1" height="12" fill="#000"/>
<rect x="510" y="110" width="3" height="6" fill="#000"/>
<rect x="511" y="111" width="1" height="4" fill="#008000"/>
<rect x="515" y="106" width="1" height="8" fill="#000"/>
<rect x="514" y="108" width="3" height="3" fill="#000"/>
<rect x="515" y="109" width="1" height="1" fill="#008000"/>
<rect x="519" y="91" width="1" height="18" fill="#000"/>
<rect x="518" y="94" width="3" height="14" fill="#000"/>
<rect x="519" y="95" width="1" height="12" fill="#008000"/>
<rect x="523" y="91" width="1" height="10" fill="#000"/>
<rect x="522" y="94" width="3" height="6" fill="#000"/>
<rect x="523" y="95" width="1" height="4" fill="#ff0000"/>
<rect x="527" y="99" width="1" height="15" fill="#000"/>
<rect x="526" y="100" width="3" height="7" fill="#000"/>
<rect x="527" y="101" width="1" height="5" fill="#ff0000"/>
<rect x="531" y="102" width="1" height="14" fill="#000"/>
<rect x="530" y="106" width="3" height="6" fill="#000"/>
<rect x="531" y="107" width="1" height="4" fill="#ff0000"/>
<rect x="535" y="101" width="1" height="18" fill="#000"/>
<rect x="534" y="108" width="3" height="3" fill="#000"/>
<rect x="535" y="109" width="1" height="1" fill="#008000"/>
<rect x="539" y="101" width="1" height="13" fill="#000"/>
<rect x="538" y="106" width="3" height="1" fill="#000"/>
<rect x="543" y="105" width="1" height="27" fill="#000"/>
<rect x="542" y="106" width="3" height="14" fill="#000"/>
<rect x="543" y="107" width="1" height="12" fill="#ff0000"/>
<rect x="547" y="106" width="1" height="17" fill="#000"/>
<rect x="546" y="108" width="3" height="12" fill="#000"/>
<rect x="547" y="109" width="1" height="10" fill="#008000"/>
<rect x="551" y="82" width="1" height="28" fill="#000"/>
<rect x="550" y="88" width="3" height="21" fill="#000"/>
<rect x="551" y="89" width="1" height="19" fill="#008000"/>
<rect x="555" y="87" width="1" height="58" fill="#000"/>
<rect x="554" y="87" width="3" height="58" fill="#000"/>
<rect x="555" y="88" width="1" height="56" fill="#ff0000"/>
<rect x="559" y="137" width="1" height="21" fill="#000"/>
<rect x="558" y="145" width="3" height="1" fill="#000"/>
<rect x="563" y="142" width="1" height="18" fill="#000"/>
<rect x="562" y="146" width="3" height="10" fill="#000"/>
<rect x="563" y="147" width="1" height="8" fill="#ff0000"/>
<rect x="567" y="145" width="1" height="12" fill="#000"/>
<rect x="566" y="148" width="3" height="8" fill="#000"/>
<rect x="567" y="149" width="1" height="6" fill="#008000"/>
<rect x="571" y="142" width="1" height="12" fill="#000"/>
<rect x="570" y="148" width="3" height="1" fill="#000"/>
<rect x="575" y="148" width="1" height="25" fill="#000"/>
<rect x="574" y="148" width="3" height="16" fill="#000"/>
<rect x="575" y="149" width="1" height="14" fill="#ff0000"/>
<rect x="579" y="156" width="1" height="8" fill="#000"/>
<rect x="578" y="159" width="3" height="5" fill="#000"/>
<rect x="579" y="160" width="1" height="3" fill="#008000"/>
<rect x="583" y="158" width="1" height="10" fill="#000"/>
<rect x="582" y="159" width="3" height="8" fill="#000"/>
<rect x="583" y="160" width="1" height="6" fill="#ff0000"/>
</g>
</g>
<clipPath id="c1"><rect x="3" y="313" width="607" height="71"/></clipPath>
<g clip-path="url(#c1)">
<g shape-rendering="crispEdges">
<path d="M327 334h8v1h-8zM320 335h7v1h-7zM335 335h9v1h-9zM261 336h12v1h-12zM313 336h7v1h-7zM344 336h9v1h-9zM253 337h8v1h-8zM273 337h5v1h-5zM301 337h12v1h-12zM353 337h19v1h-19zM239 338h14v1h-14zM278 338h6v1h-6zM295 338h6v1h-6zM372 338h9v1h-9zM233 339h6v1h-6zM284 339h11v1h-11zM381 339h7v1h-7zM229 340h4v1h-4zM388 340h7v1h-7zM226 341h3v1h-3zM395 341h7v1h-7zM206 342h20v1h-20zM402 342h13v1h-13zM199 343h7v1h-7zM415 343h4v1h-4zM191 344h8v1h-8zM419 344h3v1h-3zM184 345h7v1h-7zM422 345h3v1h-3zM100 346h58v1h-58zM169 346h15v1h-15zM425 346h3v1h-3zM88 347h12v1h-12zM158 347h11v1h-11zM428 347h4v1h-4zM480 347h13v1h-13zM84 348h4v1h-4zM432 348h3v1h-3zM473 348h7v1h-7zM493 348h9v1h-9zM82 349h2v1h-2zM435 349h4v1h-4zM466 349h7v1h-7zM502 349h3v1h-3zM80 350h2v1h-2zM439 350h5v1h-5zM461 350h5v1h-5zM505 350h54v1h-54zM79 351h1v1h-1zM444 351h7v1h-7zM457 351h4v1h-4zM559 351h3v1h-3zM77 352h2v1h-2zM451 352h6v1h-6zM562 352h8v1h-8zM75 353h2v1h-2zM570 353h3v1h-3zM72 354h3v1h-3zM573 354h8v1h-8zM3 355h13v1h-13zM22 355h12v1h-12zM68 355h4v1h-4zM581 355h2v1h-2zM16 356h6v1h-6zM34 356h34v1h-34z" fill="#0000ff"/>
<path d="M330 329h1v1h-1zM328 330h2v1h-2zM331 330h1v2h-1zM237 331h3v1h-3zM326 331h2v1h-2zM83 332h1v1h-1zM235 332h2v1h-2zM240 332h2v1h-2zM261 332h4v1h-4zM323 332h3v1h-3zM332 332h1v2h-1zM81 333h2v1h-2zM84 333h1v1h-1zM233 333h2v1h-2zM242 333h2v1h-2zM258 333h3v1h-3zM265 333h3v1h-3zM270 333h1v1h-1zM319 333h4v1h-4zM80 334h1v1h-1zM85 334h1v1h-1zM231 334h2v1h-2zM244 334h4v1h-4zM256 334h2v1h-2zM268 334h2v1h-2zM271 334h1v1h-1zM295 334h10v1h-10zM311 334h8v1h-8zM333 334h1v1h-1zM79 335h1v2h-1zM86 335h1v1h-1zM230 335h1v1h-1zM248 335h2v1h-2zM255 335h1v1h-1zM272 335h1v5h-1zM294 335h1v2h-1zM305 335h6v1h-6zM334 335h1v2h-1zM337 335h4v1h-4zM87 336h1v1h-1zM229 336h1v1h-1zM250 336h2v1h-2zM253 336h2v1h-2zM336 336h1v1h-1zM341 336h1v1h-1zM78 337h1v2h-1zM88 337h1v1h-1zM223 337h2v1h-2zM228 337h1v2h-1zM252 337h1v1h-1zM293 337h1v1h-1zM335 337h1v1h-1zM342 337h1v2h-1zM346 337h7v1h-7zM89 338h1v2h-1zM186 338h2v1h-2zM205 338h2v1h-2zM221 338h2v1h-2zM225 338h2v1h-2zM292 338h1v1h-1zM344 338h2v1h-2zM353 338h1v1h-1zM482 338h2v1h-2zM77 339h1v2h-1zM184 339h2v1h-2zM188 339h1v1h-1zM201 339h4v1h-4zM207 339h2v1h-2zM219 339h2v1h-2zM227 339h1v1h-1zM283 339h2v1h-2zM291 339h2v1h-2zM343 339h1v1h-1zM354 339h1v1h-1zM358 339h6v1h-6zM480 339h2v1h-2zM484 339h1v2h-1zM90 340h1v1h-1zM183 340h1v2h-1zM189 340h1v1h-1zM197 340h4v1h-4zM209 340h1v1h-1zM218 340h1v1h-1zM273 340h1v5h-1zM282 340h1v2h-1zM285 340h6v1h-6zM355 340h3v1h-3zM364 340h1v1h-1zM479 340h1v1h-1zM76 341h1v2h-1zM91 341h1v1h-1zM190 341h2v1h-2zM194 341h3v1h-3zM210 341h2v1h-2zM217 341h1v1h-1zM365 341h1v1h-1zM478 341h1v1h-1zM485 341h1v2h-1zM92 342h1v1h-1zM182 342h1v1h-1zM192 342h2v1h-2zM212 342h5v1h-5zM281 342h1v3h-1zM366 342h10v1h-10zM383 342h2v1h-2zM476 342h2v1h-2zM75 343h1v1h-1zM93 343h1v1h-1zM98 343h2v1h-2zM114 343h1v1h-1zM138 343h3v1h-3zM180 343h2v1h-2zM376 343h2v1h-2zM381 343h2v1h-2zM385 343h1v1h-1zM474 343h2v1h-2zM486 343h1v2h-1zM74 344h2v1h-2zM94 344h2v1h-2zM97 344h1v1h-1zM100 344h2v1h-2zM112 344h2v1h-2zM115 344h1v1h-1zM136 344h2v1h-2zM141 344h2v1h-2zM170 344h10v1h-10zM378 344h1v1h-1zM380 344h1v1h-1zM386 344h2v1h-2zM392 344h6v1h-6zM401 344h7v1h-7zM465 344h3v1h-3zM473 344h1v1h-1zM551 344h1v1h-1zM72 345h2v1h-2zM96 345h1v1h-1zM102 345h2v1h-2zM109 345h3v1h-3zM116 345h1v1h-1zM130 345h6v1h-6zM143 345h2v1h-2zM168 345h2v1h-2zM274 345h1v2h-1zM280 345h1v2h-1zM379 345h1v1h-1zM388 345h4v1h-4zM398 345h3v1h-3zM408 345h2v1h-2zM459 345h6v1h-6zM468 345h2v1h-2zM472 345h1v2h-1zM487 345h1v2h-1zM550 345h2v1h-2zM71 346h1v1h-1zM104 346h5v1h-5zM117 346h2v1h-2zM127 346h3v1h-3zM145 346h1v1h-1zM166 346h2v1h-2zM410 346h2v1h-2zM458 346h1v2h-1zM470 346h1v1h-1zM549 346h1v2h-1zM552 346h1v2h-1zM70 347h1v1h-1zM119 347h3v1h-3zM125 347h2v1h-2zM146 347h1v1h-1zM165 347h1v1h-1zM275 347h5v1h-5zM412 347h2v1h-2zM471 347h1v1h-1zM488 347h1v1h-1zM520 347h2v1h-2zM69 348h1v2h-1zM122 348h3v1h-3zM147 348h10v1h-10zM163 348h2v1h-2zM414 348h1v1h-1zM457 348h1v2h-1zM489 348h1v1h-1zM518 348h2v1h-2zM522 348h2v1h-2zM548 348h1v1h-1zM553 348h1v4h-1zM157 349h2v1h-2zM161 349h2v1h-2zM415 349h1v1h-1zM490 349h1v1h-1zM517 349h1v1h-1zM524 349h1v1h-1zM547 349h1v1h-1zM68 350h1v2h-1zM159 350h2v1h-2zM416 350h1v2h-1zM456 350h1v2h-1zM491 350h1v1h-1zM516 350h1v1h-1zM525 350h2v1h-2zM536 350h2v1h-2zM546 350h1v2h-1zM492 351h1v1h-1zM514 351h2v1h-2zM527 351h3v1h-3zM533 351h3v1h-3zM538 351h2v1h-2zM24 352h5v1h-5zM67 352h1v2h-1zM417 352h1v1h-1zM455 352h1v1h-1zM493 352h1v1h-1zM511 352h3v1h-3zM530 352h3v1h-3zM540 352h1v1h-1zM545 352h1v1h-1zM554 352h1v4h-1zM22 353h2v1h-2zM29 353h2v1h-2zM47 353h1v1h-1zM418 353h1v1h-1zM447 353h2v1h-2zM454 353h2v1h-2zM494 353h1v1h-1zM508 353h3v1h-3zM541 353h1v1h-1zM543 353h2v1h-2zM20 354h2v1h-2zM31 354h1v2h-1zM45 354h3v1h-3zM66 354h1v1h-1zM419 354h1v2h-1zM434 354h2v1h-2zM446 354h1v2h-1zM449 354h5v1h-5zM495 354h6v1h-6zM506 354h2v1h-2zM542 354h1v1h-1zM19 355h1v1h-1zM44 355h1v1h-1zM48 355h1v1h-1zM65 355h1v1h-1zM432 355h2v1h-2zM436 355h2v1h-2zM501 355h2v1h-2zM504 355h2v1h-2zM17 356h2v1h-2zM32 356h1v1h-1zM42 356h2v1h-2zM49 356h1v1h-1zM63 356h2v1h-2zM420 356h1v1h-1zM431 356h1v1h-1zM438 356h1v2h-1zM445 356h1v1h-1zM503 356h1v1h-1zM555 356h1v1h-1zM15 357h2v1h-2zM33 357h1v1h-1zM41 357h1v1h-1zM50 357h8v1h-8zM61 357h2v1h-2zM421 357h1v1h-1zM430 357h1v1h-1zM444 357h1v1h-1zM555 357h6v1h-6zM566 357h6v1h-6zM7 358h1v1h-1zM11 358h4v1h-4zM34 358h2v1h-2zM39 358h2v1h-2zM58 358h3v1h-3zM422 358h1v1h-1zM429 358h1v1h-1zM439 358h2v1h-2zM443 358h1v1h-1zM561 358h2v1h-2zM564 358h2v1h-2zM572 358h2v1h-2zM577 358h4v1h-4zM6 359h1v2h-1zM8 359h1v1h-1zM10 359h1v1h-1zM36 359h3v1h-3zM423 359h1v1h-1zM428 359h1v1h-1zM441 359h2v1h-2zM563 359h1v1h-1zM574 359h3v1h-3zM581 359h2v1h-2zM9 360h1v1h-1zM424 360h2v1h-2zM427 360h1v1h-1zM5 361h1v1h-1zM426 361h1v1h-1zM4 362h1v2h-1zM3 364h1v2h-1z" fill="#ff0000"/>
</g>
</g>
<clipPath id="c2"><rect x="3" y="387" width="607" height="64"/></clipPath>
<g clip-path="url(#c2)">
<g shape-rendering="crispEdges">
<path d="M324 388h3v1h-3zM330 388h2v1h-2zM332 389h1v1h-1zM187 390h1v1h-1zM319 390h2v1h-2zM188 391h1v1h-1zM240 391h2v1h-2zM302 391h2v1h-2zM318 391h1v1h-1zM85 392h3v1h-3zM183 392h1v1h-1zM189 392h1v1h-1zM242 392h1v1h-1zM301 392h1v1h-1zM307 392h3v1h-3zM484 392h1v2h-1zM81 393h1v1h-1zM182 393h1v1h-1zM236 393h1v1h-1zM266 393h1v1h-1zM270 393h1v1h-1zM334 393h1v1h-1zM467 393h2v1h-2zM472 393h1v1h-1zM479 393h2v1h-2zM80 394h1v1h-1zM90 394h1v1h-1zM181 394h1v1h-1zM193 394h1v1h-1zM206 394h1v1h-1zM235 394h1v1h-1zM246 394h1v1h-1zM264 394h2v1h-2zM271 394h1v2h-1zM313 394h2v1h-2zM335 394h1v2h-1zM466 394h1v1h-1zM473 394h2v1h-2zM478 394h1v1h-1zM485 394h1v1h-1zM79 395h1v1h-1zM91 395h1v2h-1zM194 395h1v1h-1zM205 395h1v1h-1zM207 395h1v1h-1zM234 395h1v1h-1zM247 395h1v1h-1zM298 395h1v1h-1zM315 395h1v1h-1zM195 396h1v1h-1zM248 396h1v1h-1zM297 396h1v1h-1zM30 397h1v1h-1zM296 397h1v1h-1zM27 398h1v2h-1zM31 398h1v2h-1zM177 398h1v1h-1zM261 398h1v1h-1zM463 398h1v1h-1zM486 398h1v1h-1zM76 399h1v3h-1zM176 399h1v2h-1zM199 399h1v1h-1zM201 399h1v1h-1zM209 399h1v1h-1zM230 399h1v1h-1zM260 399h1v2h-1zM272 399h1v2h-1zM337 399h1v1h-1zM462 399h1v2h-1zM487 399h1v2h-1zM26 400h1v1h-1zM93 400h1v3h-1zM200 400h1v1h-1zM210 400h1v1h-1zM229 400h1v2h-1zM251 400h1v2h-1zM338 400h1v2h-1zM211 401h1v1h-1zM273 401h1v1h-1zM294 401h1v1h-1zM524 401h1v1h-1zM252 402h1v1h-1zM293 402h1v2h-1zM525 402h1v1h-1zM32 403h1v1h-1zM521 403h1v1h-1zM526 403h1v1h-1zM25 404h1v1h-1zM33 404h1v2h-1zM173 404h1v3h-1zM257 404h2v1h-2zM459 404h1v2h-1zM488 404h1v1h-1zM520 404h1v2h-1zM24 405h1v2h-1zM75 405h1v1h-1zM213 405h1v2h-1zM226 405h1v2h-1zM256 405h1v1h-1zM274 405h1v1h-1zM339 405h1v1h-1zM489 405h1v2h-1zM74 406h1v2h-1zM95 406h1v2h-1zM275 406h1v2h-1zM340 406h1v2h-1zM458 406h1v1h-1zM214 407h1v1h-1zM225 407h1v1h-1zM291 407h1v2h-1zM528 407h1v2h-1zM96 408h1v1h-1zM34 409h1v3h-1zM290 409h1v1h-1zM519 409h1v2h-1zM529 409h1v1h-1zM23 410h1v1h-1zM141 410h1v2h-1zM144 410h1v1h-1zM172 410h1v2h-1zM356 410h1v1h-1zM457 410h1v1h-1zM490 410h1v3h-1zM22 411h1v2h-1zM73 411h1v3h-1zM145 411h1v1h-1zM216 411h1v2h-1zM224 411h1v1h-1zM276 411h1v1h-1zM341 411h1v2h-1zM357 411h2v1h-2zM456 411h1v2h-1zM518 411h1v1h-1zM97 412h1v2h-1zM140 412h1v1h-1zM146 412h1v1h-1zM171 412h1v1h-1zM223 412h1v2h-1zM277 412h1v2h-1zM352 412h1v1h-1zM217 413h1v1h-1zM288 413h1v3h-1zM342 413h1v1h-1zM351 413h1v1h-1zM530 413h1v3h-1zM98 414h1v1h-1zM350 414h1v1h-1zM35 415h1v1h-1zM360 415h1v1h-1zM517 415h1v3h-1zM21 416h1v3h-1zM36 416h1v2h-1zM138 416h1v1h-1zM148 416h1v1h-1zM170 416h1v3h-1zM361 416h1v2h-1zM406 416h1v1h-1zM454 416h1v1h-1zM491 416h1v1h-1zM72 417h1v3h-1zM137 417h1v2h-1zM149 417h1v2h-1zM219 417h1v1h-1zM221 417h1v1h-1zM278 417h1v3h-1zM344 417h3v1h-3zM404 417h2v1h-2zM453 417h1v2h-1zM492 417h1v2h-1zM99 418h1v3h-1zM220 418h1v1h-1zM410 418h1v2h-1zM286 419h1v1h-1zM531 419h1v1h-1zM551 419h1v1h-1zM554 419h1v1h-1zM120 420h1v2h-1zM285 420h1v2h-1zM411 420h1v1h-1zM532 420h1v2h-1zM550 420h1v2h-1zM555 420h1v2h-1zM37 421h1v3h-1zM363 421h1v1h-1zM400 421h1v1h-1zM516 421h1v3h-1zM19 422h1v1h-1zM117 422h1v1h-1zM121 422h1v1h-1zM135 422h1v2h-1zM150 422h1v2h-1zM169 422h1v3h-1zM364 422h1v1h-1zM399 422h1v1h-1zM451 422h1v2h-1zM493 422h1v2h-1zM18 423h1v2h-1zM71 423h1v1h-1zM116 423h1v2h-1zM281 423h1v1h-1zM365 423h1v1h-1zM398 423h1v1h-1zM70 424h1v2h-1zM100 424h1v3h-1zM134 424h1v1h-1zM151 424h1v1h-1zM282 424h1v1h-1zM413 424h1v2h-1zM450 424h1v1h-1zM494 424h1v1h-1zM283 425h1v1h-1zM392 425h3v1h-3zM534 425h1v2h-1zM548 425h1v1h-1zM557 425h1v1h-1zM123 426h1v3h-1zM414 426h1v1h-1zM547 426h1v2h-1zM558 426h1v2h-1zM39 427h1v3h-1zM367 427h1v1h-1zM515 427h1v2h-1zM535 427h1v1h-1zM16 428h1v2h-1zM114 428h1v1h-1zM132 428h1v2h-1zM152 428h1v2h-1zM168 428h1v1h-1zM368 428h1v2h-1zM448 428h1v2h-1zM495 428h1v3h-1zM69 429h1v2h-1zM113 429h1v2h-1zM167 429h1v2h-1zM389 429h1v1h-1zM514 429h1v1h-1zM15 430h1v1h-1zM102 430h1v2h-1zM131 430h1v1h-1zM153 430h1v1h-1zM388 430h1v2h-1zM415 430h1v3h-1zM447 430h1v1h-1zM53 431h1v1h-1zM68 431h1v1h-1zM126 431h1v1h-1zM537 431h1v1h-1zM545 431h1v1h-1zM560 431h1v3h-1zM54 432h1v1h-1zM103 432h1v1h-1zM127 432h2v1h-2zM443 432h1v1h-1zM538 432h1v1h-1zM543 432h2v1h-2zM41 433h1v1h-1zM49 433h1v1h-1zM55 433h1v1h-1zM370 433h1v1h-1zM441 433h2v1h-2zM513 433h1v2h-1zM539 433h1v1h-1zM13 434h1v2h-1zM42 434h1v1h-1zM47 434h2v1h-2zM112 434h1v1h-1zM155 434h1v1h-1zM165 434h1v2h-1zM371 434h1v2h-1zM497 434h1v2h-1zM43 435h1v1h-1zM67 435h1v2h-1zM111 435h1v2h-1zM156 435h1v2h-1zM385 435h1v1h-1zM512 435h1v1h-1zM12 436h1v1h-1zM106 436h1v1h-1zM164 436h1v1h-1zM384 436h1v2h-1zM417 436h1v2h-1zM437 436h1v1h-1zM498 436h1v1h-1zM58 437h1v2h-1zM66 437h1v1h-1zM107 437h2v1h-2zM436 437h1v2h-1zM562 437h1v2h-1zM418 438h1v1h-1zM579 438h2v1h-2zM59 439h1v1h-1zM160 439h1v1h-1zM373 439h1v1h-1zM510 439h1v2h-1zM563 439h1v1h-1zM578 439h1v1h-1zM10 440h1v2h-1zM161 440h2v1h-2zM374 440h1v1h-1zM500 440h1v2h-1zM64 441h2v1h-2zM375 441h1v1h-1zM381 441h1v1h-1zM509 441h1v1h-1zM9 442h1v1h-1zM63 442h1v1h-1zM379 442h2v1h-2zM420 442h1v1h-1zM433 442h1v2h-1zM501 442h1v1h-1zM573 442h2v1h-2zM421 443h1v1h-1zM566 443h1v1h-1zM572 443h1v1h-1zM422 444h1v1h-1zM432 444h1v1h-1zM506 444h1v1h-1zM567 444h2v1h-2zM4 445h2v1h-2zM504 445h2v1h-2zM3 446h1v1h-1zM428 447h1v1h-1zM426 448h2v1h-2z" fill="#ff0000"/>
<path d="M578 439h3v1h-3zM577 440h1v1h-1zM581 440h1v1h-1zM576 441h1v1h-1zM582 441h1v1h-1zM575 442h1v1h-1zM573 443h2v1h-2zM571 444h2v1h-2zM570 445h1v1h-1z" fill="#ff0000"/>
<path d="M27 387h1v1h-1zM76 387h9v1h-9zM186 387h1v1h-1zM239 387h1v1h-1zM319 387h13v1h-13zM483 387h1v1h-1zM519 387h1v1h-1zM26 388h2v1h-2zM75 388h1v2h-1zM85 388h2v1h-2zM182 388h4v1h-4zM187 388h1v2h-1zM237 388h2v1h-2zM240 388h1v2h-1zM263 388h2v1h-2zM298 388h6v1h-6zM318 388h1v2h-1zM331 388h1v3h-1zM467 388h1v1h-1zM482 388h2v2h-2zM519 388h2v2h-2zM26 389h1v1h-1zM28 389h1v2h-1zM87 389h1v2h-1zM174 389h8v1h-8zM236 389h1v1h-1zM263 389h1v2h-1zM265 389h1v1h-1zM297 389h1v1h-1zM304 389h1v1h-1zM465 389h2v1h-2zM468 389h1v2h-1zM25 390h1v2h-1zM74 390h1v4h-1zM174 390h1v1h-1zM188 390h1v1h-1zM207 390h1v2h-1zM234 390h2v1h-2zM241 390h1v1h-1zM266 390h1v1h-1zM296 390h1v1h-1zM305 390h1v1h-1zM317 390h1v2h-1zM464 390h1v1h-1zM481 390h1v2h-1zM484 390h1v4h-1zM518 390h1v6h-1zM521 390h1v2h-1zM29 391h1v2h-1zM88 391h1v2h-1zM173 391h1v3h-1zM189 391h1v2h-1zM232 391h2v1h-2zM242 391h1v1h-1zM262 391h1v4h-1zM267 391h5v1h-5zM295 391h1v1h-1zM306 391h1v1h-1zM332 391h1v4h-1zM463 391h1v1h-1zM469 391h1v1h-1zM24 392h1v2h-1zM206 392h1v2h-1zM208 392h1v3h-1zM230 392h2v1h-2zM243 392h1v1h-1zM271 392h1v4h-1zM294 392h1v1h-1zM307 392h2v1h-2zM316 392h1v1h-1zM462 392h1v1h-1zM470 392h1v2h-1zM480 392h1v1h-1zM522 392h1v2h-1zM30 393h1v3h-1zM89 393h1v2h-1zM190 393h1v2h-1zM229 393h1v2h-1zM244 393h1v1h-1zM293 393h1v1h-1zM309 393h2v1h-2zM315 393h1v2h-1zM461 393h1v1h-1zM479 393h1v2h-1zM23 394h1v3h-1zM73 394h1v8h-1zM172 394h1v2h-1zM205 394h1v2h-1zM245 394h1v1h-1zM292 394h1v1h-1zM311 394h1v1h-1zM460 394h1v2h-1zM471 394h6v1h-6zM485 394h1v4h-1zM523 394h1v2h-1zM90 395h1v2h-1zM191 395h1v1h-1zM209 395h1v4h-1zM228 395h1v2h-1zM246 395h1v1h-1zM261 395h1v4h-1zM291 395h1v2h-1zM312 395h3v1h-3zM333 395h1v4h-1zM477 395h2v1h-2zM31 396h1v5h-1zM171 396h1v4h-1zM191 396h2v1h-2zM204 396h1v2h-1zM247 396h1v2h-1zM272 396h1v7h-1zM314 396h1v1h-1zM459 396h1v1h-1zM517 396h1v6h-1zM524 396h1v2h-1zM22 397h1v4h-1zM91 397h1v4h-1zM193 397h1v1h-1zM227 397h1v1h-1zM290 397h1v3h-1zM458 397h1v2h-1zM194 398h1v2h-1zM203 398h1v2h-1zM226 398h1v2h-1zM248 398h1v3h-1zM486 398h1v3h-1zM525 398h1v4h-1zM210 399h1v4h-1zM260 399h1v2h-1zM334 399h1v2h-1zM457 399h1v2h-1zM139 400h1v1h-1zM170 400h1v6h-1zM195 400h1v1h-1zM202 400h1v2h-1zM225 400h1v2h-1zM289 400h1v4h-1zM21 401h1v5h-1zM32 401h1v5h-1zM92 401h1v3h-1zM139 401h2v1h-2zM196 401h1v1h-1zM249 401h1v3h-1zM259 401h1v2h-1zM335 401h1v2h-1zM456 401h1v1h-1zM487 401h1v5h-1zM72 402h1v6h-1zM138 402h1v4h-1zM141 402h1v1h-1zM197 402h2v1h-2zM201 402h1v2h-1zM224 402h1v3h-1zM455 402h1v2h-1zM516 402h1v6h-1zM526 402h1v4h-1zM142 403h1v2h-1zM199 403h1v1h-1zM211 403h1v4h-1zM258 403h1v2h-1zM273 403h1v6h-1zM336 403h1v2h-1zM93 404h1v4h-1zM200 404h1v1h-1zM250 404h1v3h-1zM288 404h1v4h-1zM454 404h1v2h-1zM143 405h1v1h-1zM223 405h1v2h-1zM257 405h1v2h-1zM337 405h1v1h-1zM551 405h1v2h-1zM20 406h1v4h-1zM33 406h1v6h-1zM137 406h1v3h-1zM144 406h1v3h-1zM169 406h1v5h-1zM338 406h1v2h-1zM355 406h1v1h-1zM453 406h1v5h-1zM488 406h1v6h-1zM527 406h1v5h-1zM212 407h1v4h-1zM222 407h1v4h-1zM251 407h1v1h-1zM256 407h1v1h-1zM354 407h2v1h-2zM550 407h1v3h-1zM552 407h1v4h-1zM71 408h1v6h-1zM94 408h1v5h-1zM251 408h2v1h-2zM255 408h1v1h-1zM287 408h1v5h-1zM339 408h1v3h-1zM354 408h1v1h-1zM356 408h1v2h-1zM515 408h1v6h-1zM136 409h1v3h-1zM145 409h1v4h-1zM253 409h2v1h-2zM274 409h1v8h-1zM353 409h1v3h-1zM19 410h1v2h-1zM357 410h1v1h-1zM549 410h1v4h-1zM168 411h1v6h-1zM213 411h1v3h-1zM221 411h1v6h-1zM340 411h1v5h-1zM358 411h1v2h-1zM452 411h1v6h-1zM528 411h1v4h-1zM553 411h1v4h-1zM18 412h1v3h-1zM34 412h1v6h-1zM135 412h1v4h-1zM352 412h1v2h-1zM489 412h1v6h-1zM95 413h1v5h-1zM146 413h1v5h-1zM286 413h1v5h-1zM359 413h1v2h-1zM406 413h1v1h-1zM70 414h1v6h-1zM115 414h5v1h-5zM214 414h1v3h-1zM351 414h1v1h-1zM404 414h2v1h-2zM407 414h2v1h-2zM514 414h1v6h-1zM548 414h1v4h-1zM17 415h1v2h-1zM115 415h1v3h-1zM119 415h1v2h-1zM350 415h2v1h-2zM360 415h1v2h-1zM403 415h1v1h-1zM409 415h1v1h-1zM529 415h1v4h-1zM554 415h1v5h-1zM134 416h1v3h-1zM341 416h1v6h-1zM348 416h2v1h-2zM402 416h1v2h-1zM410 416h1v2h-1zM16 417h1v3h-1zM120 417h1v3h-1zM167 417h1v6h-1zM215 417h1v3h-1zM220 417h1v7h-1zM275 417h1v7h-1zM347 417h1v1h-1zM361 417h1v4h-1zM391 417h1v1h-1zM451 417h1v4h-1zM35 418h1v7h-1zM96 418h1v4h-1zM114 418h1v7h-1zM147 418h1v5h-1zM285 418h1v5h-1zM346 418h1v4h-1zM390 418h2v1h-2zM401 418h1v1h-1zM411 418h1v3h-1zM490 418h1v7h-1zM547 418h1v5h-1zM133 419h1v4h-1zM390 419h1v1h-1zM392 419h1v2h-1zM400 419h1v2h-1zM530 419h1v4h-1zM15 420h1v3h-1zM69 420h1v6h-1zM121 420h1v4h-1zM216 420h1v3h-1zM389 420h1v2h-1zM513 420h1v6h-1zM555 420h1v4h-1zM362 421h1v3h-1zM393 421h1v2h-1zM399 421h1v2h-1zM412 421h1v5h-1zM450 421h1v4h-1zM97 422h1v4h-1zM342 422h1v7h-1zM345 422h1v5h-1zM388 422h1v3h-1zM14 423h1v4h-1zM132 423h1v4h-1zM148 423h1v4h-1zM166 423h1v6h-1zM217 423h1v3h-1zM284 423h1v4h-1zM394 423h1v2h-1zM398 423h1v1h-1zM531 423h1v4h-1zM546 423h1v4h-1zM122 424h1v4h-1zM219 424h1v2h-1zM276 424h1v4h-1zM363 424h1v3h-1zM396 424h2v1h-2zM556 424h1v4h-1zM36 425h1v9h-1zM113 425h1v4h-1zM387 425h1v3h-1zM395 425h1v1h-1zM449 425h1v2h-1zM491 425h1v6h-1zM68 426h1v4h-1zM98 426h1v5h-1zM218 426h2v2h-2zM413 426h1v5h-1zM512 426h1v6h-1zM13 427h1v3h-1zM131 427h1v3h-1zM149 427h1v4h-1zM283 427h1v3h-1zM344 427h1v2h-1zM364 427h1v2h-1zM439 427h1v1h-1zM448 427h1v2h-1zM532 427h1v5h-1zM545 427h1v4h-1zM52 428h2v1h-2zM123 428h1v4h-1zM219 428h1v1h-1zM277 428h1v3h-1zM386 428h1v2h-1zM438 428h1v1h-1zM440 428h1v1h-1zM557 428h1v4h-1zM50 429h2v1h-2zM54 429h1v2h-1zM112 429h1v6h-1zM165 429h1v5h-1zM343 429h2v2h-2zM365 429h1v2h-1zM437 429h1v2h-1zM441 429h1v1h-1zM447 429h1v2h-1zM12 430h1v2h-1zM49 430h1v1h-1zM67 430h1v5h-1zM130 430h1v4h-1zM282 430h1v2h-1zM385 430h1v1h-1zM442 430h1v2h-1zM48 431h1v2h-1zM55 431h1v3h-1zM99 431h1v5h-1zM150 431h1v3h-1zM278 431h1v3h-1zM343 431h1v2h-1zM366 431h1v2h-1zM384 431h1v1h-1zM414 431h1v5h-1zM436 431h1v3h-1zM445 431h2v1h-2zM492 431h1v4h-1zM544 431h1v3h-1zM11 432h1v3h-1zM124 432h1v4h-1zM281 432h1v1h-1zM383 432h1v2h-1zM443 432h2v1h-2zM511 432h1v5h-1zM533 432h1v5h-1zM558 432h1v4h-1zM47 433h1v2h-1zM280 433h1v1h-1zM367 433h1v2h-1zM37 434h1v6h-1zM56 434h1v4h-1zM129 434h1v3h-1zM151 434h1v3h-1zM164 434h1v4h-1zM279 434h2v1h-2zM382 434h1v3h-1zM435 434h1v3h-1zM543 434h1v2h-1zM579 434h1v1h-1zM10 435h1v2h-1zM46 435h1v2h-1zM66 435h1v5h-1zM111 435h1v4h-1zM279 435h1v1h-1zM368 435h1v1h-1zM493 435h1v4h-1zM578 435h2v1h-2zM100 436h1v4h-1zM125 436h1v3h-1zM369 436h1v2h-1zM415 436h1v6h-1zM541 436h2v1h-2zM559 436h1v4h-1zM578 436h1v1h-1zM580 436h1v3h-1zM9 437h1v2h-1zM45 437h1v2h-1zM128 437h1v4h-1zM152 437h1v4h-1zM381 437h1v4h-1zM434 437h1v3h-1zM510 437h1v4h-1zM534 437h1v4h-1zM540 437h1v1h-1zM577 437h1v1h-1zM57 438h1v4h-1zM163 438h1v3h-1zM370 438h1v2h-1zM539 438h1v1h-1zM576 438h1v1h-1zM8 439h1v1h-1zM44 439h1v3h-1zM109 439h2v1h-2zM126 439h1v2h-1zM494 439h1v3h-1zM538 439h1v1h-1zM575 439h1v2h-1zM581 439h1v3h-1zM7 440h1v2h-1zM38 440h1v3h-1zM65 440h1v4h-1zM101 440h1v4h-1zM108 440h1v1h-1zM371 440h1v2h-1zM433 440h1v2h-1zM537 440h1v1h-1zM560 440h1v4h-1zM107 441h1v1h-1zM127 441h1v2h-1zM153 441h1v2h-1zM162 441h1v1h-1zM380 441h1v4h-1zM509 441h1v3h-1zM535 441h2v1h-2zM574 441h1v1h-1zM6 442h1v2h-1zM43 442h1v2h-1zM58 442h1v4h-1zM106 442h1v1h-1zM161 442h1v1h-1zM372 442h1v2h-1zM416 442h1v5h-1zM432 442h1v1h-1zM495 442h1v3h-1zM535 442h1v1h-1zM573 442h1v1h-1zM582 442h1v2h-1zM39 443h1v1h-1zM105 443h1v1h-1zM154 443h1v1h-1zM159 443h2v1h-2zM431 443h1v2h-1zM572 443h1v1h-1zM5 444h1v2h-1zM39 444h2v1h-2zM42 444h1v1h-1zM64 444h1v3h-1zM102 444h1v2h-1zM104 444h1v2h-1zM155 444h4v1h-4zM373 444h1v1h-1zM508 444h1v2h-1zM561 444h1v3h-1zM571 444h1v1h-1zM583 444h1v1h-1zM41 445h2v1h-2zM374 445h1v2h-1zM379 445h1v2h-1zM430 445h1v1h-1zM496 445h1v2h-1zM570 445h1v1h-1zM4 446h1v2h-1zM59 446h1v2h-1zM103 446h1v1h-1zM429 446h1v2h-1zM507 446h1v2h-1zM569 446h1v1h-1zM63 447h1v2h-1zM375 447h5v1h-5zM417 447h1v2h-1zM497 447h1v1h-1zM562 447h1v2h-1zM568 447h1v1h-1zM3 448h1v2h-1zM59 448h2v1h-2zM428 448h1v1h-1zM498 448h1v1h-1zM506 448h1v1h-1zM566 448h2v1h-2zM61 449h2v1h-2zM418 449h3v1h-3zM427 449h1v1h-1zM499 449h3v1h-3zM504 449h2v1h-2zM563 449h3v1h-3zM421 450h6v1h-6zM502 450h2v1h-2z" fill="#20b2aa"/>
</g>
</g>
<clipPath id="c3"><rect x="3" y="454" width="607" height="85"/></clipPath>
<g clip-path="url(#c3)">
<g shape-rendering="crispEdges">
<rect x="3" y="504" width="1" height="18" fill="#c0c0c0"/>
<rect x="7" y="504" width="1" height="19" fill="#c0c0c0"/>
<rect x="11" y="504" width="1" height="20" fill="#c0c0c0"/>
<rect x="15" y="504" width="1" height="20" fill="#c0c0c0"/>
<rect x="19" y="504" width="1" height="19" fill="#c0c0c0"/>
<rect x="23" y="504" width="1" height="17" fill="#c0c0c0"/>
<rect x="27" y="504" width="1" height="16" fill="#c0c0c0"/>
<rect x="31" y="504" width="1" height="17" fill="#c0c0c0"/>
<rect x="35" y="504" width="1" height="18" fill="#c0c0c0"/>
<rect x="39" y="504" width="1" height="18" fill="#c0c0c0"/>
<rect x="43" y="504" width="1" height="17" fill="#c0c0c0"/>
<rect x="47" y="504" width="1" height="16" fill="#c0c0c0"/>
<rect x="51" y="504" width="1" height="17" fill="#c0c0c0"/>
<rect x="55" y="504" width="1" height="18" fill="#c0c0c0"/>
<rect x="59" y="504" width="1" height="18" fill="#c0c0c0"/>
<rect x="63" y="504" width="1" height="17" fill="#c0c0c0"/>
<rect x="67" y="504" width="1" height="15" fill="#c0c0c0"/>
<rect x="71" y="504" width="1" height="12" fill="#c0c0c0"/>
<rect x="75" y="504" width="1" height="10" fill="#c0c0c0"/>
<rect x="79" y="504" width="1" height="2" fill="#c0c0c0"/>
<rect x="83" y="498" width="1" height="7" fill="#c0c0c0"/>
<rect x="87" y="492" width="1" height="13" fill="#c0c0c0"/>
<rect x="91" y="491" width="1" height="14" fill="#c0c0c0"/>
<rect x="95" y="492" width="1" height="13" fill="#c0c0c0"/>
<rect x="99" y="488" width="1" height="17" fill="#c0c0c0"/>
<rect x="103" y="492" width="1" height="13" fill="#c0c0c0"/>
<rect x="107" y="492" width="1" height="13" fill="#c0c0c0"/>
<rect x="111" y="492" width="1" height="13" fill="#c0c0c0"/>
<rect x="115" y="491" width="1" height="14" fill="#c0c0c0"/>
<rect x="119" y="492" width="1" height="13" fill="#c0c0c0"/>
<rect x="123" y="494" width="1" height="11" fill="#c0c0c0"/>
<rect x="127" y="495" width="1" height="10" fill="#c0c0c0"/>
<rect x="131" y="495" width="1" height="10" fill="#c0c0c0"/>
<rect x="135" y="496" width="1" height="9" fill="#c0c0c0"/>
<rect x="139" y="495" width="1" height="10" fill="#c0c0c0"/>
<rect x="143" y="495" width="1" height="10" fill="#c0c0c0"/>
<rect x="147" y="496" width="1" height="9" fill="#c0c0c0"/>
<rect x="151" y="497" width="1" height="8" fill="#c0c0c0"/>
<rect x="155" y="498" width="1" height="7" fill="#c0c0c0"/>
<rect x="159" y="500" width="1" height="5" fill="#c0c0c0"/>
<rect x="163" y="500" width="1" height="5" fill="#c0c0c0"/>
<rect x="167" y="500" width="1" height="5" fill="#c0c0c0"/>
<rect x="171" y="499" width="1" height="6" fill="#c0c0c0"/>
<rect x="175" y="499" width="1" height="6" fill="#c0c0c0"/>
<rect x="179" y="498" width="1" height="7" fill="#c0c0c0"/>
<rect x="183" y="497" width="1" height="8" fill="#c0c0c0"/>
<rect x="187" y="495" width="1" height="10" fill="#c0c0c0"/>
<rect x="191" y="494" width="1" height="11" fill="#c0c0c0"/>
<rect x="195" y="494" width="1" height="11" fill="#c0c0c0"/>
<rect x="199" y="493" width="1" height="12" fill="#c0c0c0"/>
<rect x="203" y="492" width="1" height="13" fill="#c0c0c0"/>
<rect x="207" y="490" width="1" height="15" fill="#c0c0c0"/>
<rect x="211" y="491" width="1" height="14" fill="#c0c0c0"/>
<rect x="215" y="491" width="1" height="14" fill="#c0c0c0"/>
<rect x="219" y="491" width="1" height="14" fill="#c0c0c0"/>
<rect x="223" y="490" width="1" height="15" fill="#c0c0c0"/>
<rect x="227" y="489" width="1" height="16" fill="#c0c0c0"/>
<rect x="231" y="487" width="1" height="18" fill="#c0c0c0"/>
<rect x="235" y="485" width="1" height="20" fill="#c0c0c0"/>
<rect x="239" y="481" width="1" height="24" fill="#c0c0c0"/>
<rect x="243" y="480" width="1" height="25" fill="#c0c0c0"/>
<rect x="247" y="478" width="1" height="27" fill="#c0c0c0"/>
<rect x="251" y="479" width="1" height="26" fill="#c0c0c0"/>
<rect x="255" y="478" width="1" height="27" fill="#c0c0c0"/>
<rect x="259" y="476" width="1" height="29" fill="#c0c0c0"/>
<rect x="263" y="474" width="1" height="31" fill="#c0c0c0"/>
<rect x="267" y="474" width="1" height="31" fill="#c0c0c0"/>
<rect x="271" y="473" width="1" height="32" fill="#c0c0c0"/>
<rect x="275" y="478" width="1" height="27" fill="#c0c0c0"/>
<rect x="279" y="481" width="1" height="24" fill="#c0c0c0"/>
<rect x="283" y="481" width="1" height="24" fill="#c0c0c0"/>
<rect x="287" y="481" width="1" height="24" fill="#c0c0c0"/>
<rect x="291" y="480" width="1" height="25" fill="#c0c0c0"/>
<rect x="295" y="475" width="1" height="30" fill="#c0c0c0"/>
<rect x="299" y="472" width="1" height="33" fill="#c0c0c0"/>
<rect x="303" y="470" width="1" height="35" fill="#c0c0c0"/>
<rect x="307" y="468" width="1" height="37" fill="#c0c0c0"/>
<rect x="311" y="467" width="1" height="38" fill="#c0c0c0"/>
<rect x="315" y="466" width="1" height="39" fill="#c0c0c0"/>
<rect x="319" y="464" width="1" height="41" fill="#c0c0c0"/>
<rect x="323" y="462" width="1" height="43" fill="#c0c0c0"/>
<rect x="327" y="461" width="1" height="44" fill="#c0c0c0"/>
<rect x="331" y="459" width="1" height="46" fill="#c0c0c0"/>
<rect x="335" y="460" width="1" height="45" fill="#c0c0c0"/>
<rect x="339" y="460" width="1" height="45" fill="#c0c0c0"/>
<rect x="343" y="462" width="1" height="43" fill="#c0c0c0"/>
<rect x="347" y="463" width="1" height="42" fill="#c0c0c0"/>
<rect x="351" y="464" width="1" height="41" fill="#c0c0c0"/>
<rect x="355" y="464" width="1" height="41" fill="#c0c0c0"/>
<rect x="359" y="468" width="1" height="37" fill="#c0c0c0"/>
<rect x="363" y="470" width="1" height="35" fill="#c0c0c0"/>
<rect x="367" y="472" width="1" height="33" fill="#c0c0c0"/>
<rect x="371" y="475" width="1" height="30" fill="#c0c0c0"/>
<rect x="375" y="478" width="1" height="27" fill="#c0c0c0"/>
<rect x="379" y="481" width="1" height="24" fill="#c0c0c0"/>
<rect x="383" y="482" width="1" height="23" fill="#c0c0c0"/>
<rect x="387" y="482" width="1" height="23" fill="#c0c0c0"/>
<rect x="391" y="486" width="1" height="19" fill="#c0c0c0"/>
<rect x="395" y="488" width="1" height="17" fill="#c0c0c0"/>
<rect x="399" y="489" width="1" height="16" fill="#c0c0c0"/>
<rect x="403" y="490" width="1" height="15" fill="#c0c0c0"/>
<rect x="407" y="491" width="1" height="14" fill="#c0c0c0"/>
<rect x="411" y="493" width="1" height="12" fill="#c0c0c0"/>
<rect x="415" y="495" width="1" height="10" fill="#c0c0c0"/>
<rect x="419" y="501" width="1" height="4" fill="#c0c0c0"/>
<rect x="423" y="504" width="1" height="2" fill="#c0c0c0"/>
<rect x="427" y="504" width="1" height="3" fill="#c0c0c0"/>
<rect x="431" y="504" width="1" height="6" fill="#c0c0c0"/>
<rect x="435" y="504" width="1" height="8" fill="#c0c0c0"/>
<rect x="439" y="504" width="1" height="11" fill="#c0c0c0"/>
<rect x="443" y="504" width="1" height="13" fill="#c0c0c0"/>
<rect x="447" y="504" width="1" height="13" fill="#c0c0c0"/>
<rect x="451" y="504" width="1" height="12" fill="#c0c0c0"/>
<rect x="455" y="504" width="1" height="11" fill="#c0c0c0"/>
<rect x="459" y="504" width="1" height="7" fill="#c0c0c0"/>
<rect x="463" y="504" width="1" height="5" fill="#c0c0c0"/>
<rect x="467" y="504" width="1" height="3" fill="#c0c0c0"/>
<rect x="471" y="504" width="1" height="2" fill="#c0c0c0"/>
<rect x="475" y="504" width="1" height="1" fill="#c0c0c0"/>
<rect x="479" y="502" width="1" height="3" fill="#c0c0c0"/>
<rect x="483" y="495" width="1" height="10" fill="#c0c0c0"/>
<rect x="487" y="498" width="1" height="7" fill="#c0c0c0"/>
<rect x="491" y="500" width="1" height="5" fill="#c0c0c0"/>
<rect x="495" y="504" width="1" height="2" fill="#c0c0c0"/>
<rect x="499" y="504" width="1" height="2" fill="#c0c0c0"/>
<rect x="503" y="504" width="1" height="4" fill="#c0c0c0"/>
<rect x="507" y="504" width="1" height="7" fill="#c0c0c0"/>
<rect x="511" y="504" width="1" height="7" fill="#c0c0c0"/>
<rect x="515" y="504" width="1" height="9" fill="#c0c0c0"/>
<rect x="519" y="504" width="1" height="6" fill="#c0c0c0"/>
<rect x="523" y="504" width="1" height="4" fill="#c0c0c0"/>
<rect x="527" y="504" width="1" height="5" fill="#c0c0c0"/>
<rect x="531" y="504" width="1" height="6" fill="#c0c0c0"/>
<rect x="535" y="504" width="1" height="6" fill="#c0c0c0"/>
<rect x="539" y="504" width="1" height="6" fill="#c0c0c0"/>
<rect x="543" y="504" width="1" height="7" fill="#c0c0c0"/>
<rect x="547" y="504" width="1" height="7" fill="#c0c0c0"/>
<rect x="551" y="504" width="1" height="3" fill="#c0c0c0"/>
<rect x="555" y="504" width="1" height="8" fill="#c0c0c0"/>
<rect x="559" y="504" width="1" height="14" fill="#c0c0c0"/>
<rect x="563" y="504" width="1" height="18" fill="#c0c0c0"/>
<rect x="567" y="504" width="1" height="22" fill="#c0c0c0"/>
<rect x="571" y="504" width="1" height="23" fill="#c0c0c0"/>
<rect x="575" y="504" width="1" height="27" fill="#c0c0c0"/>
<rect x="579" y="504" width="1" height="29" fill="#c0c0c0"/>
<rect x="583" y="504" width="1" height="31" fill="#c0c0c0"/>
<path d="M345 461h14v1h-14zM339 462h6v1h-6zM359 462h4v1h-4zM334 463h5v1h-5zM363 463h2v1h-2zM331 464h3v1h-3zM365 464h3v1h-3zM329 465h2v1h-2zM368 465h3v1h-3zM327 466h2v1h-2zM371 466h3v1h-3zM325 467h2v1h-2zM374 467h2v1h-2zM323 468h2v1h-2zM376 468h2v1h-2zM320 469h3v1h-3zM378 469h1v1h-1zM318 470h2v1h-2zM379 470h2v1h-2zM316 471h2v1h-2zM381 471h2v1h-2zM314 472h2v1h-2zM383 472h2v1h-2zM312 473h2v1h-2zM385 473h2v1h-2zM309 474h3v1h-3zM387 474h2v1h-2zM306 475h3v1h-3zM389 475h2v1h-2zM268 476h23v1h-23zM298 476h8v1h-8zM391 476h2v1h-2zM266 477h2v1h-2zM291 477h7v1h-7zM393 477h2v1h-2zM263 478h3v1h-3zM395 478h2v1h-2zM261 479h2v1h-2zM397 479h1v1h-1zM258 480h3v1h-3zM398 480h2v1h-2zM255 481h3v1h-3zM400 481h2v1h-2zM253 482h2v1h-2zM402 482h2v1h-2zM251 483h2v1h-2zM404 483h3v1h-3zM248 484h3v1h-3zM407 484h3v1h-3zM244 485h4v1h-4zM410 485h2v1h-2zM241 486h3v1h-3zM412 486h2v1h-2zM237 487h4v1h-4zM414 487h2v1h-2zM233 488h4v1h-4zM416 488h2v1h-2zM229 489h4v1h-4zM418 489h2v1h-2zM116 490h7v1h-7zM222 490h7v1h-7zM420 490h2v1h-2zM112 491h4v1h-4zM123 491h5v1h-5zM216 491h6v1h-6zM422 491h1v1h-1zM110 492h2v1h-2zM128 492h12v1h-12zM212 492h4v1h-4zM423 492h2v1h-2zM108 493h2v1h-2zM140 493h4v1h-4zM209 493h3v1h-3zM425 493h2v1h-2zM107 494h1v1h-1zM144 494h12v1h-12zM205 494h4v1h-4zM427 494h1v1h-1zM106 495h1v1h-1zM156 495h6v1h-6zM200 495h5v1h-5zM428 495h2v1h-2zM105 496h1v1h-1zM162 496h4v1h-4zM195 496h5v1h-5zM430 496h1v1h-1zM104 497h1v1h-1zM166 497h5v1h-5zM193 497h2v1h-2zM431 497h2v1h-2zM103 498h1v1h-1zM171 498h22v1h-22zM433 498h1v1h-1zM102 499h1v1h-1zM434 499h2v1h-2zM100 500h2v1h-2zM436 500h2v1h-2zM99 501h1v1h-1zM438 501h1v1h-1zM98 502h1v1h-1zM439 502h2v1h-2zM494 502h17v1h-17zM97 503h1v1h-1zM441 503h1v1h-1zM492 503h2v1h-2zM511 503h2v1h-2zM96 504h1v1h-1zM442 504h1v1h-1zM490 504h2v1h-2zM513 504h2v1h-2zM95 505h1v1h-1zM443 505h1v1h-1zM488 505h2v1h-2zM515 505h2v1h-2zM94 506h1v1h-1zM444 506h1v1h-1zM486 506h2v1h-2zM517 506h3v1h-3zM93 507h1v1h-1zM445 507h1v1h-1zM484 507h2v1h-2zM520 507h3v1h-3zM92 508h1v1h-1zM446 508h2v1h-2zM482 508h2v1h-2zM523 508h2v1h-2zM91 509h1v1h-1zM448 509h1v1h-1zM480 509h2v1h-2zM525 509h4v1h-4zM90 510h1v1h-1zM449 510h1v1h-1zM478 510h2v1h-2zM529 510h30v1h-30zM89 511h1v1h-1zM450 511h2v1h-2zM475 511h3v1h-3zM559 511h2v1h-2zM88 512h1v1h-1zM452 512h1v1h-1zM473 512h2v1h-2zM561 512h2v1h-2zM3 513h2v1h-2zM87 513h1v1h-1zM453 513h3v1h-3zM471 513h2v1h-2zM563 513h2v1h-2zM5 514h2v1h-2zM85 514h2v1h-2zM456 514h15v1h-15zM565 514h2v1h-2zM7 515h1v1h-1zM84 515h1v1h-1zM567 515h3v1h-3zM8 516h2v1h-2zM82 516h2v1h-2zM570 516h2v1h-2zM10 517h1v1h-1zM80 517h2v1h-2zM572 517h2v1h-2zM11 518h2v1h-2zM79 518h1v1h-1zM574 518h2v1h-2zM13 519h4v1h-4zM77 519h2v1h-2zM576 519h1v1h-1zM17 520h4v1h-4zM75 520h2v1h-2zM577 520h2v1h-2zM21 521h4v1h-4zM51 521h11v1h-11zM71 521h4v1h-4zM579 521h2v1h-2zM25 522h26v1h-26zM62 522h9v1h-9zM581 522h2v1h-2zM583 523h1v1h-1z" fill="#ff0000"/>
</g>
</g>
<g shape-rendering="crispEdges" fill="#000">
<rect x="2" y="2" width="609" height="1" fill="#000" />
<rect x="2" y="310" width="609" height="1" fill="#000" />
<rect x="2" y="2" width="1" height="309" fill="#000" />
<rect x="610" y="2" width="1" height="309" fill="#000" />
<rect x="2" y="312" width="609" height="1" fill="#000" />
<rect x="2" y="384" width="609" height="1" fill="#000" />
<rect x="2" y="312" width="1" height="73" fill="#000" />
<rect x="610" y="312" width="1" height="73" fill="#000" />
<rect x="2" y="386" width="609" height="1" fill="#000" />
<rect x="2" y="451" width="609" height="1" fill="#000" />
<rect x="2" y="386" width="1" height="66" fill="#000" />
<rect x="610" y="386" width="1" height="66" fill="#000" />
<rect x="2" y="453" width="609" height="1" fill="#000" />
<rect x="2" y="539" width="609" height="1" fill="#000" />
<rect x="2" y="453" width="1" height="87" fill="#000" />
<rect x="610" y="453" width="1" height="87" fill="#000" />
<rect x="611" y="6" width="2" height="1" fill="#000" />
<rect x="611" y="39" width="2" height="1" fill="#000" />
<rect x="611" y="72" width="2" height="1" fill="#000" />
<rect x="611" y="107" width="2" height="1" fill="#000" />
<rect x="611" y="140" width="2" height="1" fill="#000" />
<rect x="611" y="173" width="2" height="1" fill="#000" />
<rect x="611" y="208" width="2" height="1" fill="#000" />
<rect x="611" y="241" width="2" height="1" fill="#000" />
<rect x="611" y="274" width="2" height="1" fill="#000" />
<rect x="611" y="307" width="2" height="1" fill="#000" />
<rect x="611" y="313" width="1" height="1" fill="#000" />
<rect x="611" y="383" width="1" height="1" fill="#000" />
<rect x="611" y="388" width="1" height="1" fill="#000" />
<rect x="611" y="450" width="1" height="1" fill="#000" />
<rect x="611" y="455" width="1" height="1" fill="#000" />
<rect x="611" y="504" width="1" height="1" fill="#000" />
<rect x="611" y="538" width="1" height="1" fill="#000" />
<rect x="610" y="334" width="1" height="1" fill="#c0c0c0" />
<rect x="610" y="362" width="1" height="1" fill="#c0c0c0" />
<rect x="610" y="400" width="1" height="1" fill="#c0c0c0" />
<rect x="610" y="419" width="1" height="1" fill="#c0c0c0" />
<rect x="610" y="438" width="1" height="1" fill="#c0c0c0" />
<rect x="3" y="540" width="1" height="3" fill="#000" />
<rect x="67" y="540" width="1" height="3" fill="#000" />
<rect x="131" y="540" width="1" height="3" fill="#000" />
<rect x="195" y="540" width="1" height="3" fill="#000" />
<rect x="259" y="540" width="1" height="3" fill="#000" />
<rect x="323" y="540" width="1" height="3" fill="#000" />
<rect x="387" y="540" width="1" height="3" fill="#000" />
<rect x="451" y="540" width="1" height="3" fill="#000" />
<rect x="515" y="540" width="1" height="3" fill="#000" />
<rect x="579" y="540" width="1" height="3" fill="#000" />
</g>
<path d="M6 9 L13.4 9 L9.7 13.2 Z" fill="#000"/>
<text x="18.4" y="13.9" font-size="9.8" fill="#000" stroke="#000" stroke-width="0.2" text-anchor="start" textLength="61.2" lengthAdjust="spacingAndGlyphs" >GOLD_G18,H1</text>
<text x="87.6" y="13.9" font-size="9.8" fill="#000" stroke="#000" stroke-width="0.2" text-anchor="start" textLength="120" lengthAdjust="spacingAndGlyphs" >1326.5 1326.7 1325.1 1325.3</text>
<text x="616.5" y="9.3" font-size="9.8" fill="#000" stroke="#000" stroke-width="0.2" text-anchor="start" textLength="27.5" lengthAdjust="spacingAndGlyphs" >1354.5</text>
<text x="616.5" y="42.3" font-size="9.8" fill="#000" stroke="#000" stroke-width="0.2" text-anchor="start" textLength="27.5" lengthAdjust="spacingAndGlyphs" >1348.5</text>
<text x="616.5" y="75.3" font-size="9.8" fill="#000" stroke="#000" stroke-width="0.2" text-anchor="start" textLength="27.5" lengthAdjust="spacingAndGlyphs" >1342.5</text>
<text x="616.5" y="110.3" font-size="9.8" fill="#000" stroke="#000" stroke-width="0.2" text-anchor="start" textLength="27.5" lengthAdjust="spacingAndGlyphs" >1336.0</text>
<text x="616.5" y="143.3" font-size="9.8" fill="#000" stroke="#000" stroke-width="0.2" text-anchor="start" textLength="27.5" lengthAdjust="spacingAndGlyphs" >1330.0</text>
<text x="616.5" y="176.3" font-size="9.8" fill="#000" stroke="#000" stroke-width="0.2" text-anchor="start" textLength="27.5" lengthAdjust="spacingAndGlyphs" >1324.0</text>
<text x="616.5" y="211.3" font-size="9.8" fill="#000" stroke="#000" stroke-width="0.2" text-anchor="start" textLength="27.5" lengthAdjust="spacingAndGlyphs" >1317.5</text>
<text x="616.5" y="244.3" font-size="9.8" fill="#000" stroke="#000" stroke-width="0.2" text-anchor="start" textLength="27.5" lengthAdjust="spacingAndGlyphs" >1311.5</text>
<text x="616.5" y="277.3" font-size="9.8" fill="#000" stroke="#000" stroke-width="0.2" text-anchor="start" textLength="27.5" lengthAdjust="spacingAndGlyphs" >1305.5</text>
<text x="616.5" y="310.3" font-size="9.8" fill="#000" stroke="#000" stroke-width="0.2" text-anchor="start" textLength="27.5" lengthAdjust="spacingAndGlyphs" >1299.5</text>
<rect x="612" y="47" width="36" height="11" fill="#ff0000" shape-rendering="crispEdges"/>
<text x="616.5" y="56" font-size="9.8" fill="#fff" stroke="#fff" stroke-width="0.2" text-anchor="start" textLength="27.5" lengthAdjust="spacingAndGlyphs" >1346.0</text>
<rect x="612" y="88" width="36" height="11" fill="#ff0000" shape-rendering="crispEdges"/>
<text x="616.5" y="97" font-size="9.8" fill="#fff" stroke="#fff" stroke-width="0.2" text-anchor="start" textLength="27.5" lengthAdjust="spacingAndGlyphs" >1338.5</text>
<rect x="612" y="129" width="36" height="11" fill="#ff0000" shape-rendering="crispEdges"/>
<text x="616.5" y="138" font-size="9.8" fill="#fff" stroke="#fff" stroke-width="0.2" text-anchor="start" textLength="27.5" lengthAdjust="spacingAndGlyphs" >1331.0</text>
<rect x="612" y="161" width="36" height="11" fill="#000000" shape-rendering="crispEdges"/>
<text x="616.5" y="170" font-size="9.8" fill="#fff" stroke="#fff" stroke-width="0.2" text-anchor="start" textLength="27.5" lengthAdjust="spacingAndGlyphs" >1325.3</text>
<rect x="612" y="200" width="36" height="11" fill="#6b8e23" shape-rendering="crispEdges"/>
<text x="616.5" y="209" font-size="9.8" fill="#fff" stroke="#fff" stroke-width="0.2" text-anchor="start" textLength="27.5" lengthAdjust="spacingAndGlyphs" >1318.0</text>
<rect x="612" y="232" width="36" height="11" fill="#6b8e23" shape-rendering="crispEdges"/>
<text x="616.5" y="241" font-size="9.8" fill="#fff" stroke="#fff" stroke-width="0.2" text-anchor="start" textLength="27.5" lengthAdjust="spacingAndGlyphs" >1312.0</text>
<text x="7" y="324.5" font-size="9.8" fill="#000" stroke="#000" stroke-width="0.2" text-anchor="start" textLength="150.5" lengthAdjust="spacingAndGlyphs" >RSI(14) 34.5705&#160; -&gt;MA(18) 41.2560</text>
<text x="614.5" y="322.2" font-size="9.8" fill="#000" stroke="#000" stroke-width="0.2" text-anchor="start" textLength="14.3" lengthAdjust="spacingAndGlyphs" >100</text>
<text x="613.3" y="337.3" font-size="9.8" fill="#000" stroke="#000" stroke-width="0.2" text-anchor="start" textLength="9.8" lengthAdjust="spacingAndGlyphs" >70</text>
<text x="613.3" y="365.4" font-size="9.8" fill="#000" stroke="#000" stroke-width="0.2" text-anchor="start" textLength="9.8" lengthAdjust="spacingAndGlyphs" >30</text>
<text x="614.3" y="380.3" font-size="9.8" fill="#000" stroke="#000" stroke-width="0.2" text-anchor="start" textLength="4.8" lengthAdjust="spacingAndGlyphs" >0</text>
<text x="7.4" y="398.6" font-size="9.8" fill="#000" stroke="#000" stroke-width="0.2" text-anchor="start" textLength="116.5" lengthAdjust="spacingAndGlyphs" >Stoch(5,3,3) 8.5106 14.0425</text>
<clipPath id="cs1"><rect x="611" y="387" width="39" height="20"/></clipPath>
<clipPath id="cs2"><rect x="611" y="430" width="39" height="21"/></clipPath>
<text x="614.8" y="390.3" font-size="9.8" fill="#000" stroke="#000" stroke-width="0.2" text-anchor="start" textLength="13.6" lengthAdjust="spacingAndGlyphs" clip-path="url(#cs1)">100</text>
<text x="614.3" y="396.8" font-size="9.8" fill="#000" stroke="#000" stroke-width="0.2" text-anchor="start" textLength="14.5" lengthAdjust="spacingAndGlyphs" >100</text>
<text x="613.3" y="403.5" font-size="9.8" fill="#000" stroke="#000" stroke-width="0.2" text-anchor="start" textLength="9.8" lengthAdjust="spacingAndGlyphs" >80</text>
<text x="613.3" y="422.4" font-size="9.8" fill="#000" stroke="#000" stroke-width="0.2" text-anchor="start" textLength="9.8" lengthAdjust="spacingAndGlyphs" >50</text>
<text x="613.3" y="440.8" font-size="9.8" fill="#000" stroke="#000" stroke-width="0.2" text-anchor="start" textLength="9.8" lengthAdjust="spacingAndGlyphs" >20</text>
<text x="614.3" y="447.8" font-size="9.8" fill="#000" stroke="#000" stroke-width="0.2" text-anchor="start" textLength="4.8" lengthAdjust="spacingAndGlyphs" >0</text>
<text x="613.6" y="453.4" font-size="9.8" fill="#000" stroke="#000" stroke-width="0.2" text-anchor="start" textLength="4.8" lengthAdjust="spacingAndGlyphs" clip-path="url(#cs2)">0</text>
<text x="7.4" y="465.8" font-size="9.8" fill="#000" stroke="#000" stroke-width="0.2" text-anchor="start" textLength="113.3" lengthAdjust="spacingAndGlyphs" >MACD(12,26,9) -2.91 -1.86</text>
<text x="614" y="463.1" font-size="9.8" fill="#000" stroke="#000" stroke-width="0.2" text-anchor="start" textLength="18" lengthAdjust="spacingAndGlyphs" >4.76</text>
<text x="614" y="507.1" font-size="9.8" fill="#000" stroke="#000" stroke-width="0.2" text-anchor="start" textLength="18" lengthAdjust="spacingAndGlyphs" >0.00</text>
<text x="614.5" y="535.3" font-size="9.8" fill="#000" stroke="#000" stroke-width="0.2" text-anchor="start" textLength="20.5" lengthAdjust="spacingAndGlyphs" >-3.28</text>
<text x="2.5" y="551.3" font-size="9.8" fill="#000" stroke="#000" stroke-width="0.2" text-anchor="start" textLength="43.5" lengthAdjust="spacingAndGlyphs" >9 Jan 2018</text>
<text x="66.5" y="551.3" font-size="9.8" fill="#000" stroke="#000" stroke-width="0.2" text-anchor="start" textLength="52" lengthAdjust="spacingAndGlyphs" >10 Jan 07:00</text>
<text x="130.5" y="551.3" font-size="9.8" fill="#000" stroke="#000" stroke-width="0.2" text-anchor="start" textLength="52" lengthAdjust="spacingAndGlyphs" >11 Jan 00:00</text>
<text x="194.5" y="551.3" font-size="9.8" fill="#000" stroke="#000" stroke-width="0.2" text-anchor="start" textLength="52" lengthAdjust="spacingAndGlyphs" >11 Jan 16:00</text>
<text x="258.5" y="551.3" font-size="9.8" fill="#000" stroke="#000" stroke-width="0.2" text-anchor="start" textLength="52" lengthAdjust="spacingAndGlyphs" >12 Jan 09:00</text>
<text x="322.5" y="551.3" font-size="9.8" fill="#000" stroke="#000" stroke-width="0.2" text-anchor="start" textLength="52" lengthAdjust="spacingAndGlyphs" >15 Jan 03:00</text>
<text x="386.5" y="551.3" font-size="9.8" fill="#000" stroke="#000" stroke-width="0.2" text-anchor="start" textLength="52" lengthAdjust="spacingAndGlyphs" >16 Jan 00:00</text>
<text x="450.5" y="551.3" font-size="9.8" fill="#000" stroke="#000" stroke-width="0.2" text-anchor="start" textLength="52" lengthAdjust="spacingAndGlyphs" >16 Jan 16:00</text>
<text x="514.5" y="551.3" font-size="9.8" fill="#000" stroke="#000" stroke-width="0.2" text-anchor="start" textLength="52" lengthAdjust="spacingAndGlyphs" >17 Jan 09:00</text>
<text x="578.5" y="551.3" font-size="9.8" fill="#000" stroke="#000" stroke-width="0.2" text-anchor="start" textLength="52" lengthAdjust="spacingAndGlyphs" >18 Jan 02:00</text>
</svg>
</body></html>
